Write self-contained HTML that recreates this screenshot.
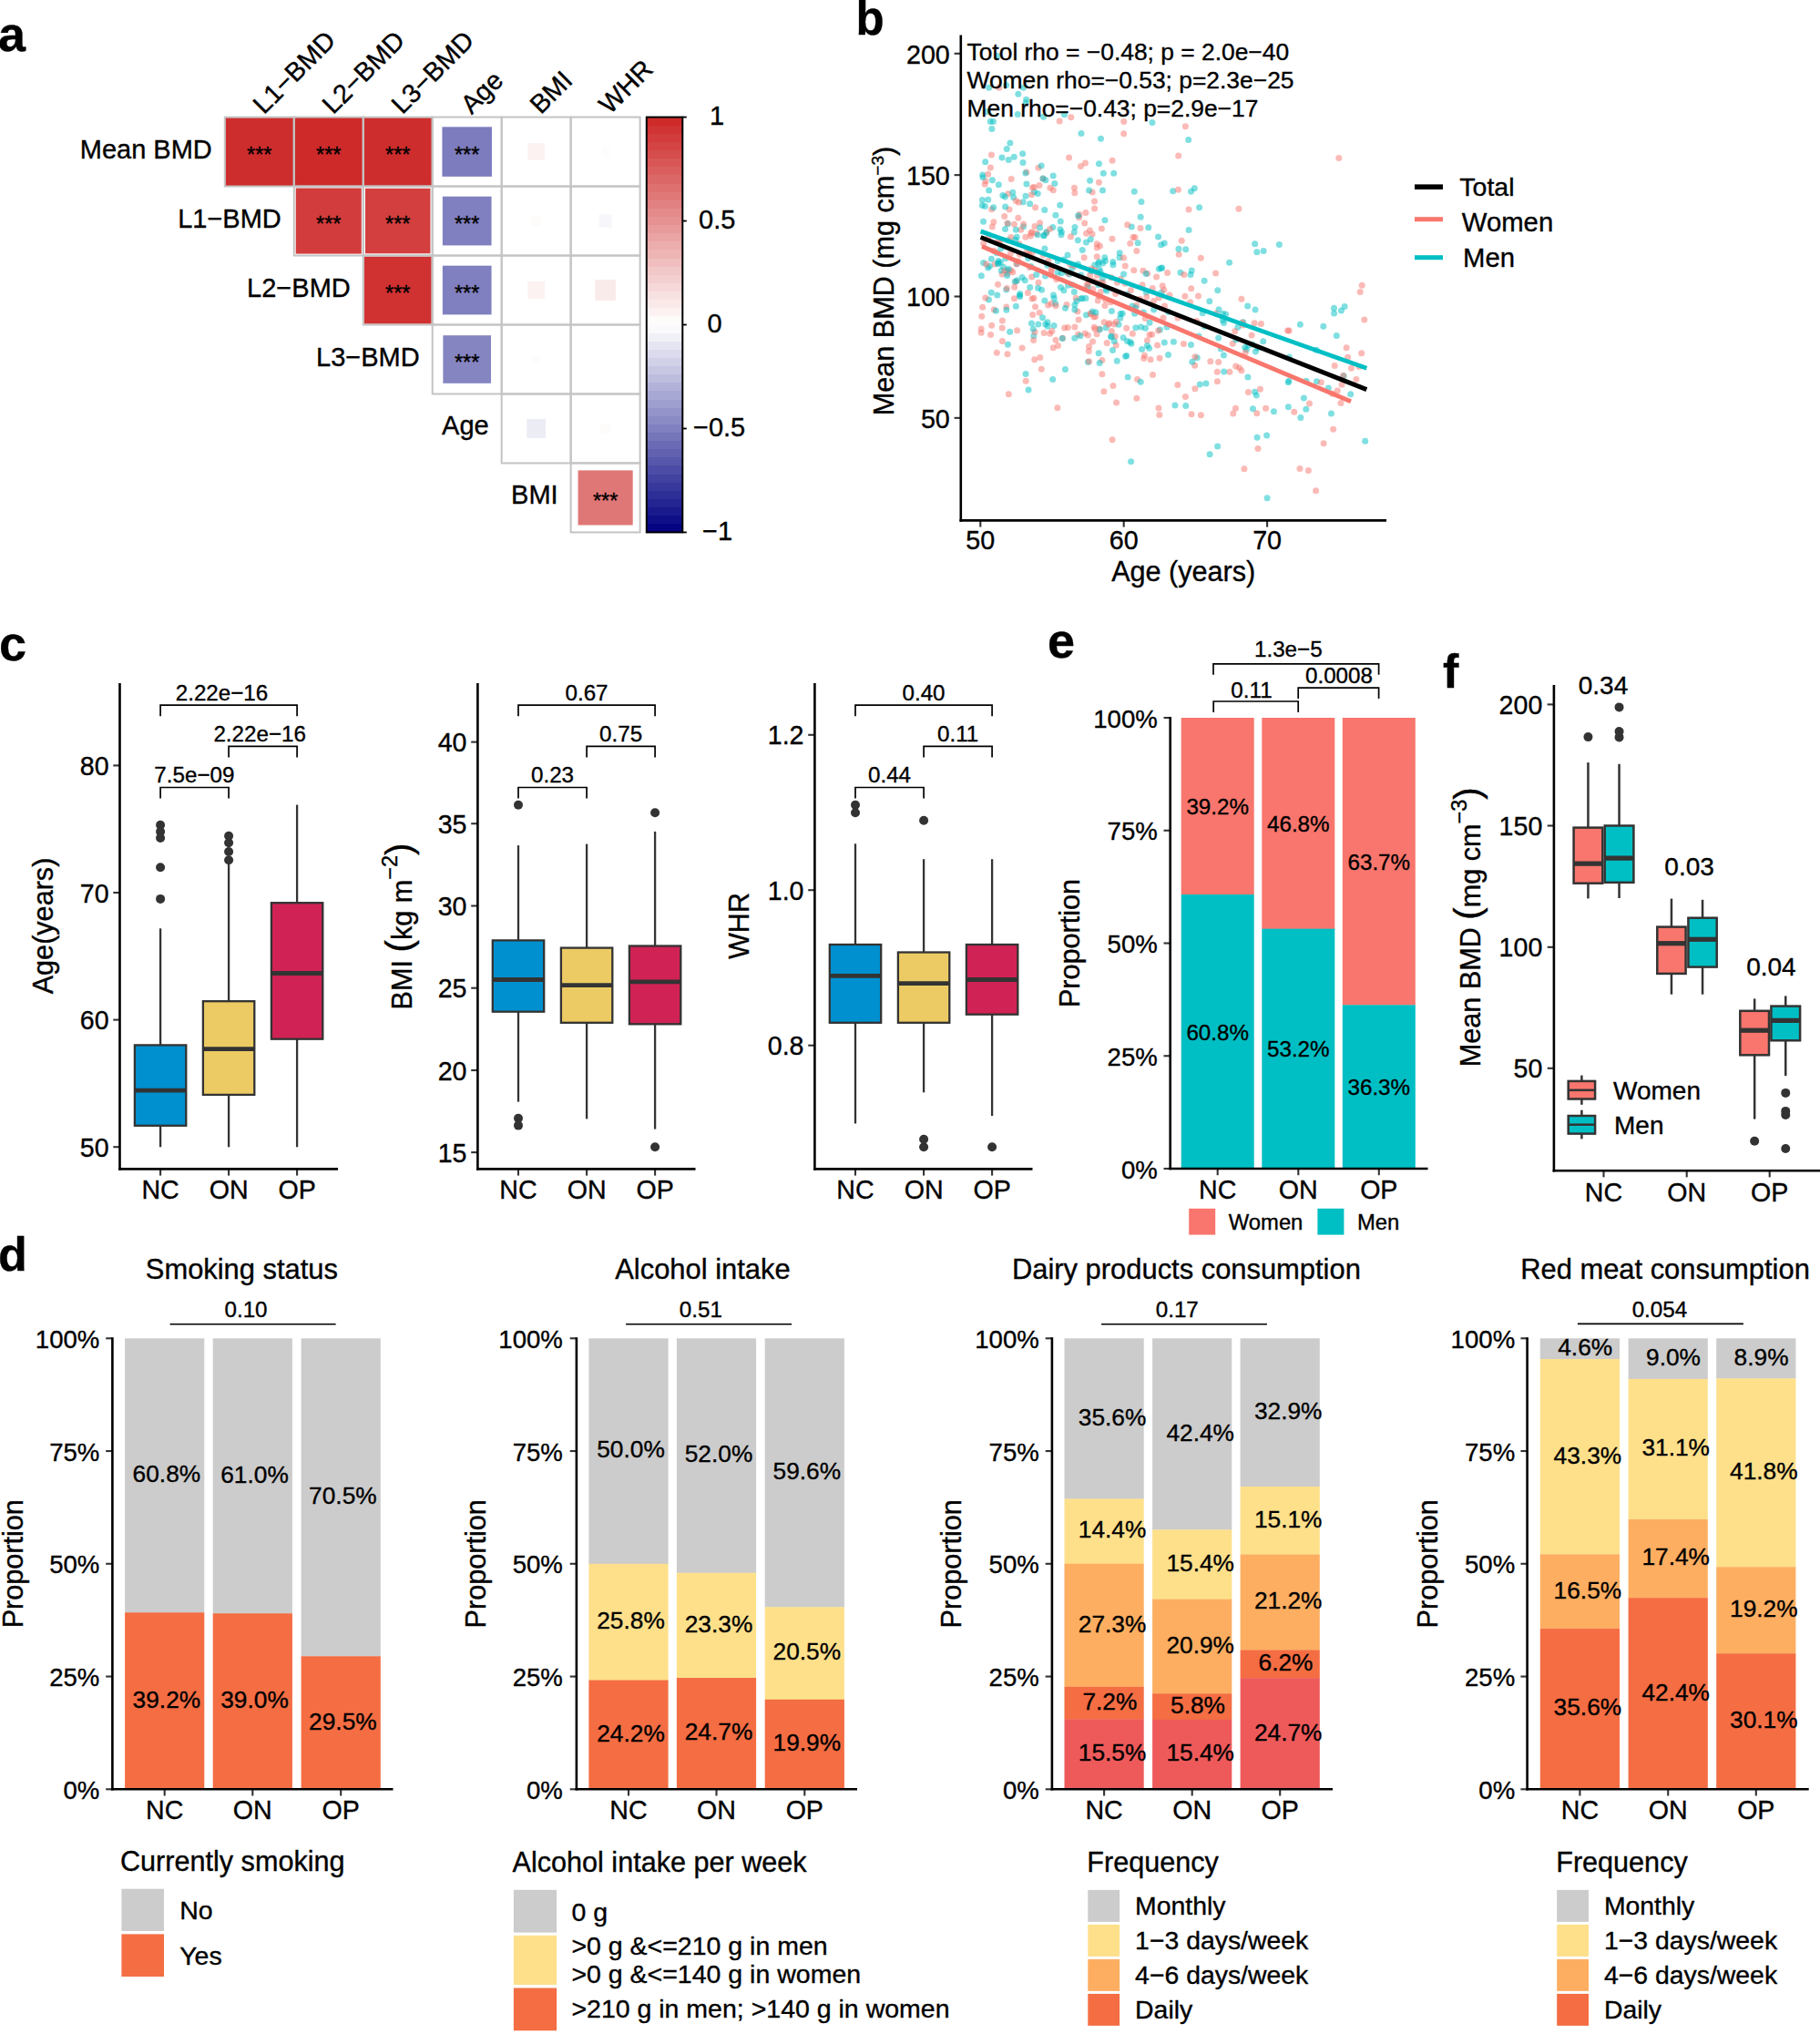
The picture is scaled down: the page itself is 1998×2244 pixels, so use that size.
<!DOCTYPE html>
<html><head><meta charset="utf-8"><title>Figure</title>
<style>
html,body{margin:0;padding:0;background:#fff}
svg{display:block}
svg text{font-family:"Liberation Sans", Arial, Helvetica, sans-serif;fill:#000;stroke:#000;stroke-width:0.35px}
</style></head><body>
<svg width="1998" height="2244" viewBox="0 0 1998 2244">
<rect x="0" y="0" width="1998" height="2244" fill="#fff"/>
<text x="-2" y="56.3" font-size="54" font-weight="bold">a</text>
<rect x="247.37" y="129.17" width="74.82" height="74.82" fill="#CE2D2D"/>
<rect x="323.15" y="128.98" width="75.21" height="75.21" fill="#CE2A2A"/>
<rect x="399.31" y="129.17" width="74.82" height="74.82" fill="#CE2D2D"/>
<rect x="485.44" y="139.33" width="54.52" height="54.52" fill="#7C7CBE"/>
<rect x="579.36" y="157.28" width="18.61" height="18.61" fill="#FCF2F2"/>
<rect x="660.47" y="162.42" width="8.32" height="8.32" fill="#FCFCFD"/>
<rect x="324.72" y="206.52" width="72.07" height="72.07" fill="#D23C3C"/>
<rect x="400.99" y="206.82" width="71.47" height="71.47" fill="#D33F3F"/>
<rect x="485.84" y="215.7" width="53.72" height="53.72" fill="#8080C0"/>
<rect x="583.29" y="237.18" width="10.74" height="10.74" fill="#FEFBFB"/>
<rect x="657.53" y="235.45" width="14.21" height="14.21" fill="#F6F6FB"/>
<rect x="399.7" y="281.5" width="74.05" height="74.05" fill="#D03131"/>
<rect x="485.84" y="291.67" width="53.72" height="53.72" fill="#8080C0"/>
<rect x="579.36" y="309.22" width="18.61" height="18.61" fill="#FCF2F2"/>
<rect x="653.24" y="307.13" width="22.79" height="22.79" fill="#FAEBEB"/>
<rect x="486.38" y="368.18" width="52.63" height="52.63" fill="#8585C2"/>
<rect x="584.5" y="390.33" width="8.32" height="8.32" fill="#FEFCFC"/>
<rect x="661.95" y="391.81" width="5.37" height="5.37" fill="#FFFEFE"/>
<rect x="578.26" y="460.06" width="20.81" height="20.81" fill="#ECECF5"/>
<rect x="659.26" y="465.09" width="10.74" height="10.74" fill="#FEFBFB"/>
<rect x="634.58" y="516.38" width="60.11" height="60.11" fill="#E07777"/>
<rect x="246.8" y="128.6" width="75.97" height="75.97" fill="none" stroke="#C4C4C4" stroke-width="2"/>
<rect x="322.77" y="128.6" width="75.97" height="75.97" fill="none" stroke="#C4C4C4" stroke-width="2"/>
<rect x="398.74" y="128.6" width="75.97" height="75.97" fill="none" stroke="#C4C4C4" stroke-width="2"/>
<rect x="474.71" y="128.6" width="75.97" height="75.97" fill="none" stroke="#C4C4C4" stroke-width="2"/>
<rect x="550.68" y="128.6" width="75.97" height="75.97" fill="none" stroke="#C4C4C4" stroke-width="2"/>
<rect x="626.65" y="128.6" width="75.97" height="75.97" fill="none" stroke="#C4C4C4" stroke-width="2"/>
<rect x="322.77" y="204.57" width="75.97" height="75.97" fill="none" stroke="#C4C4C4" stroke-width="2"/>
<rect x="398.74" y="204.57" width="75.97" height="75.97" fill="none" stroke="#C4C4C4" stroke-width="2"/>
<rect x="474.71" y="204.57" width="75.97" height="75.97" fill="none" stroke="#C4C4C4" stroke-width="2"/>
<rect x="550.68" y="204.57" width="75.97" height="75.97" fill="none" stroke="#C4C4C4" stroke-width="2"/>
<rect x="626.65" y="204.57" width="75.97" height="75.97" fill="none" stroke="#C4C4C4" stroke-width="2"/>
<rect x="398.74" y="280.54" width="75.97" height="75.97" fill="none" stroke="#C4C4C4" stroke-width="2"/>
<rect x="474.71" y="280.54" width="75.97" height="75.97" fill="none" stroke="#C4C4C4" stroke-width="2"/>
<rect x="550.68" y="280.54" width="75.97" height="75.97" fill="none" stroke="#C4C4C4" stroke-width="2"/>
<rect x="626.65" y="280.54" width="75.97" height="75.97" fill="none" stroke="#C4C4C4" stroke-width="2"/>
<rect x="474.71" y="356.51" width="75.97" height="75.97" fill="none" stroke="#C4C4C4" stroke-width="2"/>
<rect x="550.68" y="356.51" width="75.97" height="75.97" fill="none" stroke="#C4C4C4" stroke-width="2"/>
<rect x="626.65" y="356.51" width="75.97" height="75.97" fill="none" stroke="#C4C4C4" stroke-width="2"/>
<rect x="550.68" y="432.48" width="75.97" height="75.97" fill="none" stroke="#C4C4C4" stroke-width="2"/>
<rect x="626.65" y="432.48" width="75.97" height="75.97" fill="none" stroke="#C4C4C4" stroke-width="2"/>
<rect x="626.65" y="508.45" width="75.97" height="75.97" fill="none" stroke="#C4C4C4" stroke-width="2"/>
<text x="284.79" y="178.08" font-size="23.5" text-anchor="middle">***</text>
<text x="360.75" y="178.08" font-size="23.5" text-anchor="middle">***</text>
<text x="436.73" y="178.08" font-size="23.5" text-anchor="middle">***</text>
<text x="512.69" y="178.08" font-size="23.5" text-anchor="middle">***</text>
<text x="360.75" y="254.06" font-size="23.5" text-anchor="middle">***</text>
<text x="436.73" y="254.06" font-size="23.5" text-anchor="middle">***</text>
<text x="512.69" y="254.06" font-size="23.5" text-anchor="middle">***</text>
<text x="436.73" y="330.02" font-size="23.5" text-anchor="middle">***</text>
<text x="512.69" y="330.02" font-size="23.5" text-anchor="middle">***</text>
<text x="512.69" y="406" font-size="23.5" text-anchor="middle">***</text>
<text x="664.63" y="557.93" font-size="23.5" text-anchor="middle">***</text>
<text x="232.8" y="173.58" font-size="29" text-anchor="end">Mean BMD</text>
<text x="308.77" y="249.56" font-size="29" text-anchor="end">L1−BMD</text>
<text x="384.74" y="325.52" font-size="29" text-anchor="end">L2−BMD</text>
<text x="460.71" y="401.5" font-size="29" text-anchor="end">L3−BMD</text>
<text x="536.68" y="477.47" font-size="29" text-anchor="end">Age</text>
<text x="612.65" y="553.43" font-size="29" text-anchor="end">BMI</text>
<text x="289.79" y="126.6" font-size="29" transform="rotate(-45 289.79 126.6)">L1−BMD</text>
<text x="365.75" y="126.6" font-size="29" transform="rotate(-45 365.75 126.6)">L2−BMD</text>
<text x="441.73" y="126.6" font-size="29" transform="rotate(-45 441.73 126.6)">L3−BMD</text>
<text x="517.69" y="126.6" font-size="29" transform="rotate(-45 517.69 126.6)">Age</text>
<text x="593.66" y="126.6" font-size="29" transform="rotate(-45 593.66 126.6)">BMI</text>
<text x="669.63" y="126.6" font-size="29" transform="rotate(-45 669.63 126.6)">WHR</text>
<g shape-rendering="crispEdges">
<rect x="709.8" y="128.6" width="39.5" height="10.12" fill="#CE2A2A"/>
<rect x="709.8" y="137.72" width="39.5" height="10.12" fill="#D03333"/>
<rect x="709.8" y="146.83" width="39.5" height="10.12" fill="#D23C3C"/>
<rect x="709.8" y="155.95" width="39.5" height="10.12" fill="#D44444"/>
<rect x="709.8" y="165.07" width="39.5" height="10.12" fill="#D64D4D"/>
<rect x="709.8" y="174.18" width="39.5" height="10.12" fill="#D85656"/>
<rect x="709.8" y="183.3" width="39.5" height="10.12" fill="#DA5E5E"/>
<rect x="709.8" y="192.41" width="39.5" height="10.12" fill="#DC6767"/>
<rect x="709.8" y="201.53" width="39.5" height="10.12" fill="#DE7070"/>
<rect x="709.8" y="210.65" width="39.5" height="10.12" fill="#E07878"/>
<rect x="709.8" y="219.76" width="39.5" height="10.12" fill="#E28181"/>
<rect x="709.8" y="228.88" width="39.5" height="10.12" fill="#E48A8A"/>
<rect x="709.8" y="238" width="39.5" height="10.12" fill="#E69292"/>
<rect x="709.8" y="247.11" width="39.5" height="10.12" fill="#E89B9B"/>
<rect x="709.8" y="256.23" width="39.5" height="10.12" fill="#EAA4A4"/>
<rect x="709.8" y="265.35" width="39.5" height="10.12" fill="#ECADAD"/>
<rect x="709.8" y="274.46" width="39.5" height="10.12" fill="#EEB5B5"/>
<rect x="709.8" y="283.58" width="39.5" height="10.12" fill="#F0BEBE"/>
<rect x="709.8" y="292.7" width="39.5" height="10.12" fill="#F2C7C7"/>
<rect x="709.8" y="301.81" width="39.5" height="10.12" fill="#F4CFCF"/>
<rect x="709.8" y="310.93" width="39.5" height="10.12" fill="#F6D8D8"/>
<rect x="709.8" y="320.04" width="39.5" height="10.12" fill="#F8E1E1"/>
<rect x="709.8" y="329.16" width="39.5" height="10.12" fill="#FAE9E9"/>
<rect x="709.8" y="338.28" width="39.5" height="10.12" fill="#FCF2F2"/>
<rect x="709.8" y="347.39" width="39.5" height="10.12" fill="#FEFBFB"/>
<rect x="709.8" y="356.51" width="39.5" height="10.12" fill="#FAFAFC"/>
<rect x="709.8" y="365.63" width="39.5" height="10.12" fill="#F0F0F7"/>
<rect x="709.8" y="374.74" width="39.5" height="10.12" fill="#E5E5F2"/>
<rect x="709.8" y="383.86" width="39.5" height="10.12" fill="#DBDBED"/>
<rect x="709.8" y="392.98" width="39.5" height="10.12" fill="#D1D1E8"/>
<rect x="709.8" y="402.09" width="39.5" height="10.12" fill="#C7C7E3"/>
<rect x="709.8" y="411.21" width="39.5" height="10.12" fill="#BDBDDE"/>
<rect x="709.8" y="420.32" width="39.5" height="10.12" fill="#B2B2D9"/>
<rect x="709.8" y="429.44" width="39.5" height="10.12" fill="#A8A8D4"/>
<rect x="709.8" y="438.56" width="39.5" height="10.12" fill="#9E9ECF"/>
<rect x="709.8" y="447.67" width="39.5" height="10.12" fill="#9494CA"/>
<rect x="709.8" y="456.79" width="39.5" height="10.12" fill="#8A8AC5"/>
<rect x="709.8" y="465.91" width="39.5" height="10.12" fill="#8080C0"/>
<rect x="709.8" y="475.02" width="39.5" height="10.12" fill="#7575BA"/>
<rect x="709.8" y="484.14" width="39.5" height="10.12" fill="#6B6BB5"/>
<rect x="709.8" y="493.26" width="39.5" height="10.12" fill="#6161B0"/>
<rect x="709.8" y="502.37" width="39.5" height="10.12" fill="#5757AB"/>
<rect x="709.8" y="511.49" width="39.5" height="10.12" fill="#4C4CA6"/>
<rect x="709.8" y="520.61" width="39.5" height="10.12" fill="#4242A1"/>
<rect x="709.8" y="529.72" width="39.5" height="10.12" fill="#38389C"/>
<rect x="709.8" y="538.84" width="39.5" height="10.12" fill="#2E2E97"/>
<rect x="709.8" y="547.95" width="39.5" height="10.12" fill="#242492"/>
<rect x="709.8" y="557.07" width="39.5" height="10.12" fill="#1A1A8D"/>
<rect x="709.8" y="566.19" width="39.5" height="10.12" fill="#0F0F88"/>
<rect x="709.8" y="575.3" width="39.5" height="10.12" fill="#050583"/>
</g>
<rect x="709.8" y="128.6" width="39.5" height="455.82" fill="none" stroke="#000" stroke-width="2"/>
<line x1="749.3" y1="128.6" x2="753.8" y2="128.6" stroke="#000" stroke-width="1.8"/>
<text x="779" y="136.9" font-size="29">1</text>
<line x1="749.3" y1="242.56" x2="753.8" y2="242.56" stroke="#000" stroke-width="1.8"/>
<text x="767" y="250.86" font-size="29">0.5</text>
<line x1="749.3" y1="356.51" x2="753.8" y2="356.51" stroke="#000" stroke-width="1.8"/>
<text x="776.5" y="364.81" font-size="29">0</text>
<line x1="749.3" y1="470.47" x2="753.8" y2="470.47" stroke="#000" stroke-width="1.8"/>
<text x="761" y="478.77" font-size="29">−0.5</text>
<line x1="749.3" y1="584.42" x2="753.8" y2="584.42" stroke="#000" stroke-width="1.8"/>
<text x="771" y="592.72" font-size="29">−1</text>
<text x="939.6" y="38.3" font-size="51" font-weight="bold">b</text>
<g fill-opacity="0.5">
<circle cx="1196.66" cy="302.03" r="3.5" fill="#F8766D"/>
<circle cx="1100.36" cy="374.57" r="3.5" fill="#F8766D"/>
<circle cx="1130.71" cy="315.4" r="3.5" fill="#00BFC4"/>
<circle cx="1237.87" cy="323.01" r="3.5" fill="#00BFC4"/>
<circle cx="1100.21" cy="301.11" r="3.5" fill="#F8766D"/>
<circle cx="1118.93" cy="267.75" r="3.5" fill="#F8766D"/>
<circle cx="1079.51" cy="243.33" r="3.5" fill="#00BFC4"/>
<circle cx="1146.9" cy="272.96" r="3.5" fill="#00BFC4"/>
<circle cx="1095.55" cy="312.3" r="3.5" fill="#F8766D"/>
<circle cx="1253.52" cy="383.42" r="3.5" fill="#00BFC4"/>
<circle cx="1257.43" cy="360.14" r="3.5" fill="#00BFC4"/>
<circle cx="1155.71" cy="416.52" r="3.5" fill="#00BFC4"/>
<circle cx="1188.24" cy="274.54" r="3.5" fill="#00BFC4"/>
<circle cx="1126.66" cy="109.21" r="3.5" fill="#00BFC4"/>
<circle cx="1140.02" cy="310.19" r="3.5" fill="#F8766D"/>
<circle cx="1199.66" cy="317.54" r="3.5" fill="#F8766D"/>
<circle cx="1213.37" cy="286.44" r="3.5" fill="#00BFC4"/>
<circle cx="1079.64" cy="288.4" r="3.5" fill="#00BFC4"/>
<circle cx="1201.58" cy="229.01" r="3.5" fill="#F8766D"/>
<circle cx="1125.98" cy="215.2" r="3.5" fill="#00BFC4"/>
<circle cx="1208.07" cy="298.55" r="3.5" fill="#00BFC4"/>
<circle cx="1252.96" cy="221.56" r="3.5" fill="#00BFC4"/>
<circle cx="1145.56" cy="128.14" r="3.5" fill="#00BFC4"/>
<circle cx="1414.36" cy="446.85" r="3.5" fill="#00BFC4"/>
<circle cx="1236.68" cy="360.35" r="3.5" fill="#F8766D"/>
<circle cx="1197.48" cy="343.98" r="3.5" fill="#F8766D"/>
<circle cx="1135.28" cy="210.82" r="3.5" fill="#00BFC4"/>
<circle cx="1098.74" cy="272.86" r="3.5" fill="#00BFC4"/>
<circle cx="1117.79" cy="103.13" r="3.5" fill="#00BFC4"/>
<circle cx="1271.53" cy="260.03" r="3.5" fill="#00BFC4"/>
<circle cx="1165.4" cy="254.65" r="3.5" fill="#00BFC4"/>
<circle cx="1488.89" cy="416.38" r="3.5" fill="#F8766D"/>
<circle cx="1201.56" cy="220.89" r="3.5" fill="#F8766D"/>
<circle cx="1091.24" cy="340.06" r="3.5" fill="#F8766D"/>
<circle cx="1194.56" cy="311.65" r="3.5" fill="#F8766D"/>
<circle cx="1192.59" cy="256.27" r="3.5" fill="#F8766D"/>
<circle cx="1270.56" cy="379.06" r="3.5" fill="#F8766D"/>
<circle cx="1259.59" cy="300.35" r="3.5" fill="#F8766D"/>
<circle cx="1092.04" cy="289.98" r="3.5" fill="#F8766D"/>
<circle cx="1482.72" cy="432.85" r="3.5" fill="#00BFC4"/>
<circle cx="1177.49" cy="312.93" r="3.5" fill="#00BFC4"/>
<circle cx="1082.6" cy="122.81" r="3.5" fill="#00BFC4"/>
<circle cx="1353.26" cy="377.18" r="3.5" fill="#F8766D"/>
<circle cx="1208.49" cy="152.37" r="3.5" fill="#00BFC4"/>
<circle cx="1380.08" cy="480.19" r="3.5" fill="#00BFC4"/>
<circle cx="1369.67" cy="335.89" r="3.5" fill="#00BFC4"/>
<circle cx="1077.71" cy="347.31" r="3.5" fill="#F8766D"/>
<circle cx="1126.96" cy="201.92" r="3.5" fill="#00BFC4"/>
<circle cx="1359.9" cy="229.27" r="3.5" fill="#F8766D"/>
<circle cx="1145.18" cy="279.97" r="3.5" fill="#F8766D"/>
<circle cx="1206.92" cy="361.09" r="3.5" fill="#F8766D"/>
<circle cx="1289.95" cy="444.96" r="3.5" fill="#00BFC4"/>
<circle cx="1358.83" cy="359.25" r="3.5" fill="#00BFC4"/>
<circle cx="1229.11" cy="277.67" r="3.5" fill="#00BFC4"/>
<circle cx="1259.42" cy="373.78" r="3.5" fill="#F8766D"/>
<circle cx="1085.74" cy="96.14" r="3.5" fill="#00BFC4"/>
<circle cx="1300.87" cy="325.16" r="3.5" fill="#F8766D"/>
<circle cx="1131.75" cy="256.03" r="3.5" fill="#F8766D"/>
<circle cx="1238.17" cy="413.89" r="3.5" fill="#00BFC4"/>
<circle cx="1079.67" cy="267.2" r="3.5" fill="#F8766D"/>
<circle cx="1128.41" cy="321.56" r="3.5" fill="#F8766D"/>
<circle cx="1336.29" cy="408.18" r="3.5" fill="#F8766D"/>
<circle cx="1107.23" cy="175.49" r="3.5" fill="#00BFC4"/>
<circle cx="1252.16" cy="238.18" r="3.5" fill="#00BFC4"/>
<circle cx="1123.52" cy="96.14" r="3.5" fill="#00BFC4"/>
<circle cx="1364.83" cy="353.81" r="3.5" fill="#00BFC4"/>
<circle cx="1464.45" cy="338.13" r="3.5" fill="#00BFC4"/>
<circle cx="1336.38" cy="418.8" r="3.5" fill="#F8766D"/>
<circle cx="1277.03" cy="348.91" r="3.5" fill="#F8766D"/>
<circle cx="1141.59" cy="244.7" r="3.5" fill="#F8766D"/>
<circle cx="1247.82" cy="275.59" r="3.5" fill="#F8766D"/>
<circle cx="1363.86" cy="354.07" r="3.5" fill="#F8766D"/>
<circle cx="1186.58" cy="327.93" r="3.5" fill="#00BFC4"/>
<circle cx="1305.09" cy="252.53" r="3.5" fill="#00BFC4"/>
<circle cx="1219.55" cy="369.83" r="3.5" fill="#00BFC4"/>
<circle cx="1212.13" cy="353.73" r="3.5" fill="#F8766D"/>
<circle cx="1192.53" cy="345.63" r="3.5" fill="#00BFC4"/>
<circle cx="1185" cy="235.41" r="3.5" fill="#F8766D"/>
<circle cx="1087.32" cy="133.48" r="3.5" fill="#00BFC4"/>
<circle cx="1219.2" cy="331.66" r="3.5" fill="#F8766D"/>
<circle cx="1173.56" cy="173.02" r="3.5" fill="#F8766D"/>
<circle cx="1184.06" cy="351.03" r="3.5" fill="#F8766D"/>
<circle cx="1212.82" cy="282.85" r="3.5" fill="#00BFC4"/>
<circle cx="1166.51" cy="371.18" r="3.5" fill="#F8766D"/>
<circle cx="1137.63" cy="256.13" r="3.5" fill="#F8766D"/>
<circle cx="1271.93" cy="447.94" r="3.5" fill="#F8766D"/>
<circle cx="1243.12" cy="335.99" r="3.5" fill="#00BFC4"/>
<circle cx="1106.71" cy="212.65" r="3.5" fill="#F8766D"/>
<circle cx="1299.46" cy="377.62" r="3.5" fill="#F8766D"/>
<circle cx="1223.2" cy="356.07" r="3.5" fill="#F8766D"/>
<circle cx="1463.64" cy="471.17" r="3.5" fill="#F8766D"/>
<circle cx="1188.1" cy="327.52" r="3.5" fill="#00BFC4"/>
<circle cx="1081.7" cy="177.68" r="3.5" fill="#00BFC4"/>
<circle cx="1146.75" cy="230.43" r="3.5" fill="#00BFC4"/>
<circle cx="1191.88" cy="233.44" r="3.5" fill="#F8766D"/>
<circle cx="1434" cy="418.34" r="3.5" fill="#00BFC4"/>
<circle cx="1125.22" cy="307.72" r="3.5" fill="#00BFC4"/>
<circle cx="1204.23" cy="271.91" r="3.5" fill="#F8766D"/>
<circle cx="1171.03" cy="334.41" r="3.5" fill="#F8766D"/>
<circle cx="1297.24" cy="264.24" r="3.5" fill="#F8766D"/>
<circle cx="1157.25" cy="327.41" r="3.5" fill="#00BFC4"/>
<circle cx="1272.06" cy="327.02" r="3.5" fill="#F8766D"/>
<circle cx="1335.11" cy="344" r="3.5" fill="#F8766D"/>
<circle cx="1130.37" cy="293.57" r="3.5" fill="#F8766D"/>
<circle cx="1099.29" cy="296.94" r="3.5" fill="#00BFC4"/>
<circle cx="1462.85" cy="432.37" r="3.5" fill="#F8766D"/>
<circle cx="1103.31" cy="216.09" r="3.5" fill="#00BFC4"/>
<circle cx="1196.58" cy="198.25" r="3.5" fill="#00BFC4"/>
<circle cx="1276.24" cy="313.82" r="3.5" fill="#F8766D"/>
<circle cx="1379.32" cy="433.9" r="3.5" fill="#00BFC4"/>
<circle cx="1104.77" cy="336.98" r="3.5" fill="#F8766D"/>
<circle cx="1148.75" cy="255.86" r="3.5" fill="#F8766D"/>
<circle cx="1157.09" cy="357.62" r="3.5" fill="#00BFC4"/>
<circle cx="1115.34" cy="336.16" r="3.5" fill="#00BFC4"/>
<circle cx="1190.67" cy="244.96" r="3.5" fill="#F8766D"/>
<circle cx="1230.12" cy="344.57" r="3.5" fill="#00BFC4"/>
<circle cx="1135.34" cy="205.49" r="3.5" fill="#F8766D"/>
<circle cx="1105.97" cy="297.08" r="3.5" fill="#00BFC4"/>
<circle cx="1077.15" cy="365.14" r="3.5" fill="#F8766D"/>
<circle cx="1113.43" cy="246.24" r="3.5" fill="#F8766D"/>
<circle cx="1167.9" cy="318.74" r="3.5" fill="#00BFC4"/>
<circle cx="1225.18" cy="379.12" r="3.5" fill="#F8766D"/>
<circle cx="1272.32" cy="295.27" r="3.5" fill="#00BFC4"/>
<circle cx="1311.29" cy="206.63" r="3.5" fill="#00BFC4"/>
<circle cx="1123.57" cy="248.83" r="3.5" fill="#00BFC4"/>
<circle cx="1194.12" cy="314.88" r="3.5" fill="#00BFC4"/>
<circle cx="1120.67" cy="252.32" r="3.5" fill="#F8766D"/>
<circle cx="1130.66" cy="223.86" r="3.5" fill="#00BFC4"/>
<circle cx="1150.66" cy="334.94" r="3.5" fill="#F8766D"/>
<circle cx="1084.73" cy="219.18" r="3.5" fill="#00BFC4"/>
<circle cx="1235.51" cy="391.28" r="3.5" fill="#00BFC4"/>
<circle cx="1242.23" cy="248.89" r="3.5" fill="#00BFC4"/>
<circle cx="1241.98" cy="377.33" r="3.5" fill="#00BFC4"/>
<circle cx="1166.25" cy="371.53" r="3.5" fill="#00BFC4"/>
<circle cx="1133.4" cy="206.03" r="3.5" fill="#F8766D"/>
<circle cx="1475.2" cy="412.81" r="3.5" fill="#00BFC4"/>
<circle cx="1154.23" cy="333.15" r="3.5" fill="#F8766D"/>
<circle cx="1233.17" cy="370.68" r="3.5" fill="#00BFC4"/>
<circle cx="1282.56" cy="389.42" r="3.5" fill="#00BFC4"/>
<circle cx="1275.72" cy="294.12" r="3.5" fill="#00BFC4"/>
<circle cx="1123.62" cy="245.9" r="3.5" fill="#F8766D"/>
<circle cx="1179.91" cy="359.08" r="3.5" fill="#F8766D"/>
<circle cx="1122.12" cy="381.91" r="3.5" fill="#F8766D"/>
<circle cx="1356.7" cy="401.96" r="3.5" fill="#F8766D"/>
<circle cx="1119.44" cy="324.23" r="3.5" fill="#00BFC4"/>
<circle cx="1153.98" cy="301.83" r="3.5" fill="#F8766D"/>
<circle cx="1474.62" cy="412.14" r="3.5" fill="#F8766D"/>
<circle cx="1221.53" cy="384.6" r="3.5" fill="#00BFC4"/>
<circle cx="1212.98" cy="241.78" r="3.5" fill="#00BFC4"/>
<circle cx="1221.11" cy="176.15" r="3.5" fill="#F8766D"/>
<circle cx="1355.69" cy="363.75" r="3.5" fill="#F8766D"/>
<circle cx="1318.25" cy="283.26" r="3.5" fill="#F8766D"/>
<circle cx="1204.25" cy="281.78" r="3.5" fill="#F8766D"/>
<circle cx="1168.67" cy="360.1" r="3.5" fill="#F8766D"/>
<circle cx="1266.52" cy="330.53" r="3.5" fill="#F8766D"/>
<circle cx="1167.9" cy="284.89" r="3.5" fill="#00BFC4"/>
<circle cx="1082.08" cy="198.7" r="3.5" fill="#F8766D"/>
<circle cx="1183.59" cy="366.9" r="3.5" fill="#F8766D"/>
<circle cx="1084.85" cy="260.74" r="3.5" fill="#F8766D"/>
<circle cx="1206.44" cy="200.13" r="3.5" fill="#F8766D"/>
<circle cx="1213.62" cy="328.94" r="3.5" fill="#F8766D"/>
<circle cx="1294.2" cy="279.21" r="3.5" fill="#F8766D"/>
<circle cx="1301.44" cy="435.52" r="3.5" fill="#F8766D"/>
<circle cx="1368.41" cy="383.75" r="3.5" fill="#00BFC4"/>
<circle cx="1483.46" cy="404.18" r="3.5" fill="#F8766D"/>
<circle cx="1147.7" cy="355.88" r="3.5" fill="#00BFC4"/>
<circle cx="1214.15" cy="359.79" r="3.5" fill="#00BFC4"/>
<circle cx="1182.97" cy="341.92" r="3.5" fill="#F8766D"/>
<circle cx="1213" cy="335.49" r="3.5" fill="#F8766D"/>
<circle cx="1090.47" cy="133.48" r="3.5" fill="#00BFC4"/>
<circle cx="1195.59" cy="380.39" r="3.5" fill="#F8766D"/>
<circle cx="1191.44" cy="179.08" r="3.5" fill="#F8766D"/>
<circle cx="1155.82" cy="249.47" r="3.5" fill="#00BFC4"/>
<circle cx="1106.87" cy="263.66" r="3.5" fill="#00BFC4"/>
<circle cx="1491.99" cy="402.38" r="3.5" fill="#F8766D"/>
<circle cx="1437.45" cy="442.99" r="3.5" fill="#F8766D"/>
<circle cx="1465.18" cy="401.51" r="3.5" fill="#F8766D"/>
<circle cx="1387.14" cy="275.44" r="3.5" fill="#00BFC4"/>
<circle cx="1096.76" cy="96.14" r="3.5" fill="#F8766D"/>
<circle cx="1275.05" cy="320.93" r="3.5" fill="#00BFC4"/>
<circle cx="1383.44" cy="427.19" r="3.5" fill="#F8766D"/>
<circle cx="1116.24" cy="260.13" r="3.5" fill="#00BFC4"/>
<circle cx="1183.36" cy="263.87" r="3.5" fill="#00BFC4"/>
<circle cx="1132.7" cy="304.07" r="3.5" fill="#F8766D"/>
<circle cx="1468.33" cy="428.88" r="3.5" fill="#F8766D"/>
<circle cx="1106.44" cy="378.3" r="3.5" fill="#00BFC4"/>
<circle cx="1322.37" cy="358.16" r="3.5" fill="#00BFC4"/>
<circle cx="1453.11" cy="486.84" r="3.5" fill="#F8766D"/>
<circle cx="1273.43" cy="362.08" r="3.5" fill="#00BFC4"/>
<circle cx="1278.24" cy="267.07" r="3.5" fill="#00BFC4"/>
<circle cx="1107.33" cy="432.67" r="3.5" fill="#F8766D"/>
<circle cx="1288.39" cy="375.22" r="3.5" fill="#00BFC4"/>
<circle cx="1078.41" cy="219.39" r="3.5" fill="#00BFC4"/>
<circle cx="1197.29" cy="344.71" r="3.5" fill="#F8766D"/>
<circle cx="1152.59" cy="366.19" r="3.5" fill="#F8766D"/>
<circle cx="1246.09" cy="260.55" r="3.5" fill="#F8766D"/>
<circle cx="1191.05" cy="366.05" r="3.5" fill="#F8766D"/>
<circle cx="1366.69" cy="381.54" r="3.5" fill="#00BFC4"/>
<circle cx="1377.1" cy="354.73" r="3.5" fill="#F8766D"/>
<circle cx="1431.39" cy="437.03" r="3.5" fill="#00BFC4"/>
<circle cx="1281.02" cy="359.01" r="3.5" fill="#00BFC4"/>
<circle cx="1131.47" cy="258.89" r="3.5" fill="#F8766D"/>
<circle cx="1245.28" cy="210.13" r="3.5" fill="#00BFC4"/>
<circle cx="1199.54" cy="375.08" r="3.5" fill="#F8766D"/>
<circle cx="1353.79" cy="453.9" r="3.5" fill="#F8766D"/>
<circle cx="1085.43" cy="328.97" r="3.5" fill="#00BFC4"/>
<circle cx="1262.06" cy="354.13" r="3.5" fill="#00BFC4"/>
<circle cx="1274.67" cy="294.47" r="3.5" fill="#00BFC4"/>
<circle cx="1209.88" cy="410.77" r="3.5" fill="#F8766D"/>
<circle cx="1141.79" cy="392.42" r="3.5" fill="#F8766D"/>
<circle cx="1147.89" cy="197.85" r="3.5" fill="#00BFC4"/>
<circle cx="1132.99" cy="328.1" r="3.5" fill="#F8766D"/>
<circle cx="1317.26" cy="422.02" r="3.5" fill="#00BFC4"/>
<circle cx="1277.82" cy="318.2" r="3.5" fill="#F8766D"/>
<circle cx="1109.41" cy="278.17" r="3.5" fill="#F8766D"/>
<circle cx="1269.55" cy="303.91" r="3.5" fill="#F8766D"/>
<circle cx="1345.56" cy="345.09" r="3.5" fill="#00BFC4"/>
<circle cx="1132.75" cy="254.68" r="3.5" fill="#F8766D"/>
<circle cx="1111.84" cy="211.34" r="3.5" fill="#00BFC4"/>
<circle cx="1307.51" cy="378.44" r="3.5" fill="#00BFC4"/>
<circle cx="1183.47" cy="289.96" r="3.5" fill="#00BFC4"/>
<circle cx="1139.14" cy="257.8" r="3.5" fill="#00BFC4"/>
<circle cx="1404.34" cy="268.54" r="3.5" fill="#00BFC4"/>
<circle cx="1171.25" cy="298.93" r="3.5" fill="#00BFC4"/>
<circle cx="1374.75" cy="378.2" r="3.5" fill="#00BFC4"/>
<circle cx="1141.13" cy="343.32" r="3.5" fill="#F8766D"/>
<circle cx="1498.69" cy="484.27" r="3.5" fill="#00BFC4"/>
<circle cx="1135.92" cy="248.47" r="3.5" fill="#F8766D"/>
<circle cx="1222.69" cy="190.2" r="3.5" fill="#00BFC4"/>
<circle cx="1139.98" cy="184.3" r="3.5" fill="#F8766D"/>
<circle cx="1375.46" cy="448.66" r="3.5" fill="#00BFC4"/>
<circle cx="1243.36" cy="366.28" r="3.5" fill="#F8766D"/>
<circle cx="1308.01" cy="454.84" r="3.5" fill="#F8766D"/>
<circle cx="1243.92" cy="260.41" r="3.5" fill="#F8766D"/>
<circle cx="1199.76" cy="308.3" r="3.5" fill="#F8766D"/>
<circle cx="1343.44" cy="389.9" r="3.5" fill="#00BFC4"/>
<circle cx="1254.12" cy="312.66" r="3.5" fill="#F8766D"/>
<circle cx="1106.02" cy="388.64" r="3.5" fill="#F8766D"/>
<circle cx="1205.67" cy="289.21" r="3.5" fill="#00BFC4"/>
<circle cx="1156.21" cy="193.01" r="3.5" fill="#00BFC4"/>
<circle cx="1287.73" cy="209.73" r="3.5" fill="#00BFC4"/>
<circle cx="1100.41" cy="352.1" r="3.5" fill="#F8766D"/>
<circle cx="1313.69" cy="352.55" r="3.5" fill="#F8766D"/>
<circle cx="1122.63" cy="168.67" r="3.5" fill="#00BFC4"/>
<circle cx="1159.76" cy="306.85" r="3.5" fill="#F8766D"/>
<circle cx="1181.14" cy="327.33" r="3.5" fill="#F8766D"/>
<circle cx="1181.88" cy="330.45" r="3.5" fill="#00BFC4"/>
<circle cx="1220.38" cy="363.59" r="3.5" fill="#F8766D"/>
<circle cx="1221.99" cy="423.52" r="3.5" fill="#F8766D"/>
<circle cx="1476.1" cy="336.59" r="3.5" fill="#00BFC4"/>
<circle cx="1217.71" cy="354.87" r="3.5" fill="#F8766D"/>
<circle cx="1123" cy="178.46" r="3.5" fill="#00BFC4"/>
<circle cx="1316.61" cy="227.77" r="3.5" fill="#00BFC4"/>
<circle cx="1158.9" cy="236.22" r="3.5" fill="#00BFC4"/>
<circle cx="1109.74" cy="260.57" r="3.5" fill="#F8766D"/>
<circle cx="1301.68" cy="273.76" r="3.5" fill="#00BFC4"/>
<circle cx="1110.21" cy="196.41" r="3.5" fill="#F8766D"/>
<circle cx="1112.62" cy="216.63" r="3.5" fill="#00BFC4"/>
<circle cx="1179.98" cy="249.56" r="3.5" fill="#00BFC4"/>
<circle cx="1116.21" cy="289.43" r="3.5" fill="#00BFC4"/>
<circle cx="1338" cy="339.8" r="3.5" fill="#00BFC4"/>
<circle cx="1105.98" cy="300.32" r="3.5" fill="#F8766D"/>
<circle cx="1273.03" cy="393.2" r="3.5" fill="#F8766D"/>
<circle cx="1157.78" cy="201.47" r="3.5" fill="#00BFC4"/>
<circle cx="1143.2" cy="181.93" r="3.5" fill="#00BFC4"/>
<circle cx="1414.92" cy="418.26" r="3.5" fill="#00BFC4"/>
<circle cx="1323.96" cy="421.02" r="3.5" fill="#00BFC4"/>
<circle cx="1085.65" cy="208.91" r="3.5" fill="#00BFC4"/>
<circle cx="1179.28" cy="255.01" r="3.5" fill="#00BFC4"/>
<circle cx="1328.8" cy="396.67" r="3.5" fill="#F8766D"/>
<circle cx="1134.79" cy="368.67" r="3.5" fill="#00BFC4"/>
<circle cx="1199.05" cy="257.05" r="3.5" fill="#F8766D"/>
<circle cx="1364.34" cy="357.07" r="3.5" fill="#F8766D"/>
<circle cx="1415.3" cy="392.11" r="3.5" fill="#00BFC4"/>
<circle cx="1078.75" cy="191.91" r="3.5" fill="#00BFC4"/>
<circle cx="1204.06" cy="310.04" r="3.5" fill="#F8766D"/>
<circle cx="1494.66" cy="387.84" r="3.5" fill="#F8766D"/>
<circle cx="1378.4" cy="386.07" r="3.5" fill="#00BFC4"/>
<circle cx="1215.18" cy="376.39" r="3.5" fill="#F8766D"/>
<circle cx="1200.86" cy="348.01" r="3.5" fill="#F8766D"/>
<circle cx="1087.39" cy="184.06" r="3.5" fill="#F8766D"/>
<circle cx="1444.62" cy="538.86" r="3.5" fill="#F8766D"/>
<circle cx="1134.99" cy="327.28" r="3.5" fill="#F8766D"/>
<circle cx="1229.06" cy="282.84" r="3.5" fill="#00BFC4"/>
<circle cx="1106.47" cy="245.67" r="3.5" fill="#00BFC4"/>
<circle cx="1217.02" cy="356.31" r="3.5" fill="#F8766D"/>
<circle cx="1311.69" cy="401.28" r="3.5" fill="#F8766D"/>
<circle cx="1108" cy="230.12" r="3.5" fill="#F8766D"/>
<circle cx="1088.43" cy="169.91" r="3.5" fill="#F8766D"/>
<circle cx="1367.08" cy="387.25" r="3.5" fill="#F8766D"/>
<circle cx="1208.37" cy="320.41" r="3.5" fill="#F8766D"/>
<circle cx="1094.28" cy="277.82" r="3.5" fill="#00BFC4"/>
<circle cx="1206.81" cy="295.19" r="3.5" fill="#00BFC4"/>
<circle cx="1493.22" cy="320.47" r="3.5" fill="#F8766D"/>
<circle cx="1095.69" cy="265.1" r="3.5" fill="#F8766D"/>
<circle cx="1117.22" cy="125.48" r="3.5" fill="#00BFC4"/>
<circle cx="1379.75" cy="453.65" r="3.5" fill="#F8766D"/>
<circle cx="1190.21" cy="282.73" r="3.5" fill="#F8766D"/>
<circle cx="1445.49" cy="418.76" r="3.5" fill="#00BFC4"/>
<circle cx="1245.64" cy="344.22" r="3.5" fill="#00BFC4"/>
<circle cx="1132.45" cy="213.86" r="3.5" fill="#F8766D"/>
<circle cx="1088.25" cy="321.21" r="3.5" fill="#00BFC4"/>
<circle cx="1220.08" cy="304.84" r="3.5" fill="#F8766D"/>
<circle cx="1398.43" cy="451.85" r="3.5" fill="#00BFC4"/>
<circle cx="1146.35" cy="258.41" r="3.5" fill="#00BFC4"/>
<circle cx="1123.16" cy="221.75" r="3.5" fill="#00BFC4"/>
<circle cx="1184.57" cy="238.63" r="3.5" fill="#F8766D"/>
<circle cx="1308.28" cy="297.07" r="3.5" fill="#00BFC4"/>
<circle cx="1478.11" cy="381.71" r="3.5" fill="#F8766D"/>
<circle cx="1144.99" cy="196.11" r="3.5" fill="#F8766D"/>
<circle cx="1156.21" cy="208.78" r="3.5" fill="#F8766D"/>
<circle cx="1090.82" cy="243.83" r="3.5" fill="#F8766D"/>
<circle cx="1413.57" cy="363.01" r="3.5" fill="#F8766D"/>
<circle cx="1116.59" cy="362.66" r="3.5" fill="#F8766D"/>
<circle cx="1129.07" cy="427.94" r="3.5" fill="#00BFC4"/>
<circle cx="1096.36" cy="202.74" r="3.5" fill="#00BFC4"/>
<circle cx="1125.84" cy="260.21" r="3.5" fill="#F8766D"/>
<circle cx="1204.18" cy="267.64" r="3.5" fill="#F8766D"/>
<circle cx="1156.51" cy="323.92" r="3.5" fill="#00BFC4"/>
<circle cx="1094.27" cy="387.13" r="3.5" fill="#F8766D"/>
<circle cx="1115.3" cy="252.15" r="3.5" fill="#00BFC4"/>
<circle cx="1135.69" cy="394.75" r="3.5" fill="#F8766D"/>
<circle cx="1150.01" cy="353.75" r="3.5" fill="#00BFC4"/>
<circle cx="1204.09" cy="366.74" r="3.5" fill="#F8766D"/>
<circle cx="1337.64" cy="397.52" r="3.5" fill="#F8766D"/>
<circle cx="1301.73" cy="445.4" r="3.5" fill="#00BFC4"/>
<circle cx="1204.58" cy="302.02" r="3.5" fill="#F8766D"/>
<circle cx="1221.11" cy="482.85" r="3.5" fill="#F8766D"/>
<circle cx="1104.72" cy="317.95" r="3.5" fill="#00BFC4"/>
<circle cx="1370.41" cy="430.61" r="3.5" fill="#F8766D"/>
<circle cx="1255.26" cy="343.06" r="3.5" fill="#00BFC4"/>
<circle cx="1370.2" cy="379.01" r="3.5" fill="#00BFC4"/>
<circle cx="1293.65" cy="171.09" r="3.5" fill="#F8766D"/>
<circle cx="1086.38" cy="292.14" r="3.5" fill="#00BFC4"/>
<circle cx="1161.51" cy="379.57" r="3.5" fill="#F8766D"/>
<circle cx="1163.75" cy="225.33" r="3.5" fill="#00BFC4"/>
<circle cx="1278.31" cy="376" r="3.5" fill="#00BFC4"/>
<circle cx="1258.33" cy="320.94" r="3.5" fill="#00BFC4"/>
<circle cx="1148.91" cy="254.39" r="3.5" fill="#00BFC4"/>
<circle cx="1201.7" cy="290.88" r="3.5" fill="#00BFC4"/>
<circle cx="1077.19" cy="360.92" r="3.5" fill="#F8766D"/>
<circle cx="1193.16" cy="312.64" r="3.5" fill="#F8766D"/>
<circle cx="1467.31" cy="368.41" r="3.5" fill="#00BFC4"/>
<circle cx="1139.82" cy="356" r="3.5" fill="#00BFC4"/>
<circle cx="1108.88" cy="156.98" r="3.5" fill="#00BFC4"/>
<circle cx="1104.91" cy="340.26" r="3.5" fill="#00BFC4"/>
<circle cx="1100.18" cy="360.02" r="3.5" fill="#F8766D"/>
<circle cx="1078.23" cy="225.52" r="3.5" fill="#00BFC4"/>
<circle cx="1436.34" cy="516.44" r="3.5" fill="#F8766D"/>
<circle cx="1183.67" cy="236.63" r="3.5" fill="#00BFC4"/>
<circle cx="1136.62" cy="227.79" r="3.5" fill="#F8766D"/>
<circle cx="1150.19" cy="358.34" r="3.5" fill="#00BFC4"/>
<circle cx="1197.27" cy="262.79" r="3.5" fill="#00BFC4"/>
<circle cx="1414.17" cy="419.69" r="3.5" fill="#00BFC4"/>
<circle cx="1305.02" cy="230.03" r="3.5" fill="#F8766D"/>
<circle cx="1251.97" cy="250.52" r="3.5" fill="#F8766D"/>
<circle cx="1244.76" cy="296.67" r="3.5" fill="#F8766D"/>
<circle cx="1293.93" cy="273.3" r="3.5" fill="#00BFC4"/>
<circle cx="1426.95" cy="514.47" r="3.5" fill="#F8766D"/>
<circle cx="1343.56" cy="354.48" r="3.5" fill="#00BFC4"/>
<circle cx="1472" cy="442.51" r="3.5" fill="#F8766D"/>
<circle cx="1254.93" cy="297.26" r="3.5" fill="#F8766D"/>
<circle cx="1099.97" cy="173.09" r="3.5" fill="#00BFC4"/>
<circle cx="1115.3" cy="308.91" r="3.5" fill="#F8766D"/>
<circle cx="1229.84" cy="349.24" r="3.5" fill="#00BFC4"/>
<circle cx="1337.65" cy="371.02" r="3.5" fill="#00BFC4"/>
<circle cx="1258.8" cy="326" r="3.5" fill="#F8766D"/>
<circle cx="1258.1" cy="300.48" r="3.5" fill="#00BFC4"/>
<circle cx="1356.92" cy="372.89" r="3.5" fill="#00BFC4"/>
<circle cx="1469.8" cy="173.48" r="3.5" fill="#F8766D"/>
<circle cx="1179.87" cy="340.12" r="3.5" fill="#00BFC4"/>
<circle cx="1186.45" cy="182.5" r="3.5" fill="#F8766D"/>
<circle cx="1143.26" cy="405.27" r="3.5" fill="#F8766D"/>
<circle cx="1198.15" cy="295.05" r="3.5" fill="#F8766D"/>
<circle cx="1340.27" cy="383.07" r="3.5" fill="#00BFC4"/>
<circle cx="1307.5" cy="210.34" r="3.5" fill="#00BFC4"/>
<circle cx="1154.16" cy="297.59" r="3.5" fill="#F8766D"/>
<circle cx="1196.37" cy="252.89" r="3.5" fill="#F8766D"/>
<circle cx="1202.63" cy="347.62" r="3.5" fill="#F8766D"/>
<circle cx="1301.38" cy="138.81" r="3.5" fill="#F8766D"/>
<circle cx="1101.65" cy="293.3" r="3.5" fill="#00BFC4"/>
<circle cx="1206.7" cy="287.39" r="3.5" fill="#00BFC4"/>
<circle cx="1226.28" cy="396.14" r="3.5" fill="#00BFC4"/>
<circle cx="1295.96" cy="299.15" r="3.5" fill="#00BFC4"/>
<circle cx="1225.56" cy="441.96" r="3.5" fill="#F8766D"/>
<circle cx="1096.13" cy="286.47" r="3.5" fill="#00BFC4"/>
<circle cx="1144.55" cy="348.79" r="3.5" fill="#00BFC4"/>
<circle cx="1154.82" cy="363.54" r="3.5" fill="#F8766D"/>
<circle cx="1192.4" cy="266.1" r="3.5" fill="#00BFC4"/>
<circle cx="1314.3" cy="392.69" r="3.5" fill="#00BFC4"/>
<circle cx="1236.82" cy="390.48" r="3.5" fill="#00BFC4"/>
<circle cx="1241.57" cy="506.86" r="3.5" fill="#00BFC4"/>
<circle cx="1177.14" cy="294.26" r="3.5" fill="#00BFC4"/>
<circle cx="1230.31" cy="306.29" r="3.5" fill="#F8766D"/>
<circle cx="1088.66" cy="229.82" r="3.5" fill="#F8766D"/>
<circle cx="1461.47" cy="453.98" r="3.5" fill="#00BFC4"/>
<circle cx="1194.38" cy="367.93" r="3.5" fill="#F8766D"/>
<circle cx="1349.9" cy="408.36" r="3.5" fill="#F8766D"/>
<circle cx="1199.13" cy="210.88" r="3.5" fill="#F8766D"/>
<circle cx="1137.8" cy="301.48" r="3.5" fill="#00BFC4"/>
<circle cx="1336.63" cy="490.01" r="3.5" fill="#00BFC4"/>
<circle cx="1117.75" cy="286.77" r="3.5" fill="#F8766D"/>
<circle cx="1179.32" cy="291.66" r="3.5" fill="#F8766D"/>
<circle cx="1211.87" cy="429.71" r="3.5" fill="#F8766D"/>
<circle cx="1232.22" cy="344.25" r="3.5" fill="#00BFC4"/>
<circle cx="1260.76" cy="249.69" r="3.5" fill="#00BFC4"/>
<circle cx="1210.88" cy="309.94" r="3.5" fill="#F8766D"/>
<circle cx="1136.03" cy="364.49" r="3.5" fill="#F8766D"/>
<circle cx="1209.38" cy="250.95" r="3.5" fill="#F8766D"/>
<circle cx="1224.2" cy="369.34" r="3.5" fill="#F8766D"/>
<circle cx="1173.84" cy="301" r="3.5" fill="#00BFC4"/>
<circle cx="1097.73" cy="266.55" r="3.5" fill="#F8766D"/>
<circle cx="1111.77" cy="298.64" r="3.5" fill="#F8766D"/>
<circle cx="1220.41" cy="341.45" r="3.5" fill="#00BFC4"/>
<circle cx="1105.25" cy="163.43" r="3.5" fill="#00BFC4"/>
<circle cx="1201.7" cy="296.63" r="3.5" fill="#F8766D"/>
<circle cx="1334.55" cy="300.07" r="3.5" fill="#F8766D"/>
<circle cx="1293.45" cy="208.2" r="3.5" fill="#F8766D"/>
<circle cx="1343.66" cy="408.07" r="3.5" fill="#00BFC4"/>
<circle cx="1342.45" cy="344.41" r="3.5" fill="#00BFC4"/>
<circle cx="1141.59" cy="250.01" r="3.5" fill="#00BFC4"/>
<circle cx="1214.07" cy="316.98" r="3.5" fill="#00BFC4"/>
<circle cx="1140.95" cy="203.53" r="3.5" fill="#F8766D"/>
<circle cx="1084.63" cy="294.02" r="3.5" fill="#00BFC4"/>
<circle cx="1281.6" cy="299.62" r="3.5" fill="#F8766D"/>
<circle cx="1201.23" cy="359.16" r="3.5" fill="#F8766D"/>
<circle cx="1179.82" cy="334.7" r="3.5" fill="#00BFC4"/>
<circle cx="1089.43" cy="197.85" r="3.5" fill="#00BFC4"/>
<circle cx="1214.91" cy="319.17" r="3.5" fill="#00BFC4"/>
<circle cx="1088.89" cy="141.48" r="3.5" fill="#00BFC4"/>
<circle cx="1261.97" cy="367.62" r="3.5" fill="#F8766D"/>
<circle cx="1105.87" cy="244.93" r="3.5" fill="#F8766D"/>
<circle cx="1114.25" cy="309.22" r="3.5" fill="#00BFC4"/>
<circle cx="1144.98" cy="195.88" r="3.5" fill="#00BFC4"/>
<circle cx="1318.4" cy="455.72" r="3.5" fill="#F8766D"/>
<circle cx="1263.07" cy="394.78" r="3.5" fill="#F8766D"/>
<circle cx="1102.66" cy="237.51" r="3.5" fill="#F8766D"/>
<circle cx="1098.36" cy="287.91" r="3.5" fill="#00BFC4"/>
<circle cx="1261.56" cy="382.25" r="3.5" fill="#00BFC4"/>
<circle cx="1133.12" cy="277.67" r="3.5" fill="#F8766D"/>
<circle cx="1132.43" cy="355.04" r="3.5" fill="#00BFC4"/>
<circle cx="1081.83" cy="326.88" r="3.5" fill="#F8766D"/>
<circle cx="1194.42" cy="397.39" r="3.5" fill="#00BFC4"/>
<circle cx="1095.19" cy="61.47" r="3.5" fill="#00BFC4"/>
<circle cx="1126.96" cy="188.93" r="3.5" fill="#F8766D"/>
<circle cx="1090.63" cy="227.64" r="3.5" fill="#00BFC4"/>
<circle cx="1095.5" cy="288.78" r="3.5" fill="#00BFC4"/>
<circle cx="1100.78" cy="214.5" r="3.5" fill="#00BFC4"/>
<circle cx="1108.62" cy="364.32" r="3.5" fill="#00BFC4"/>
<circle cx="1195.26" cy="385.39" r="3.5" fill="#F8766D"/>
<circle cx="1240.77" cy="375.59" r="3.5" fill="#00BFC4"/>
<circle cx="1221.83" cy="287.6" r="3.5" fill="#00BFC4"/>
<circle cx="1195.55" cy="209.05" r="3.5" fill="#00BFC4"/>
<circle cx="1282.73" cy="342.42" r="3.5" fill="#00BFC4"/>
<circle cx="1235.2" cy="292.1" r="3.5" fill="#F8766D"/>
<circle cx="1131.91" cy="292.49" r="3.5" fill="#00BFC4"/>
<circle cx="1311.87" cy="391.76" r="3.5" fill="#F8766D"/>
<circle cx="1095.92" cy="289.71" r="3.5" fill="#00BFC4"/>
<circle cx="1109.7" cy="296.81" r="3.5" fill="#F8766D"/>
<circle cx="1328.14" cy="498.86" r="3.5" fill="#00BFC4"/>
<circle cx="1248.57" cy="416.59" r="3.5" fill="#F8766D"/>
<circle cx="1103.62" cy="227.04" r="3.5" fill="#00BFC4"/>
<circle cx="1497.8" cy="350.97" r="3.5" fill="#F8766D"/>
<circle cx="1163.17" cy="133.07" r="3.5" fill="#F8766D"/>
<circle cx="1103.51" cy="251.51" r="3.5" fill="#00BFC4"/>
<circle cx="1233.7" cy="146.81" r="3.5" fill="#F8766D"/>
<circle cx="1272.83" cy="455.54" r="3.5" fill="#F8766D"/>
<circle cx="1088.65" cy="357.15" r="3.5" fill="#F8766D"/>
<circle cx="1172.03" cy="279.89" r="3.5" fill="#00BFC4"/>
<circle cx="1479.62" cy="392.17" r="3.5" fill="#F8766D"/>
<circle cx="1384.35" cy="355.62" r="3.5" fill="#F8766D"/>
<circle cx="1195.55" cy="396.72" r="3.5" fill="#F8766D"/>
<circle cx="1377.61" cy="267.82" r="3.5" fill="#00BFC4"/>
<circle cx="1427.85" cy="458.58" r="3.5" fill="#00BFC4"/>
<circle cx="1378.03" cy="340.07" r="3.5" fill="#00BFC4"/>
<circle cx="1247.86" cy="437.35" r="3.5" fill="#F8766D"/>
<circle cx="1168.53" cy="125.79" r="3.5" fill="#00BFC4"/>
<circle cx="1360.52" cy="403.69" r="3.5" fill="#F8766D"/>
<circle cx="1169.45" cy="338.23" r="3.5" fill="#00BFC4"/>
<circle cx="1127.3" cy="276.37" r="3.5" fill="#F8766D"/>
<circle cx="1152.92" cy="206.15" r="3.5" fill="#F8766D"/>
<circle cx="1391.1" cy="546.86" r="3.5" fill="#00BFC4"/>
<circle cx="1342.4" cy="351.59" r="3.5" fill="#00BFC4"/>
<circle cx="1077.38" cy="302.71" r="3.5" fill="#00BFC4"/>
<circle cx="1202.94" cy="342.94" r="3.5" fill="#00BFC4"/>
<circle cx="1122.15" cy="304.53" r="3.5" fill="#00BFC4"/>
<circle cx="1186.74" cy="301.9" r="3.5" fill="#00BFC4"/>
<circle cx="1452.82" cy="358.33" r="3.5" fill="#00BFC4"/>
<circle cx="1113.23" cy="172.14" r="3.5" fill="#00BFC4"/>
<circle cx="1179.33" cy="320.49" r="3.5" fill="#00BFC4"/>
<circle cx="1172.52" cy="313.35" r="3.5" fill="#00BFC4"/>
<circle cx="1472.41" cy="340.95" r="3.5" fill="#00BFC4"/>
<circle cx="1266.7" cy="340.12" r="3.5" fill="#00BFC4"/>
<circle cx="1174.72" cy="290.31" r="3.5" fill="#F8766D"/>
<circle cx="1237.47" cy="374.46" r="3.5" fill="#00BFC4"/>
<circle cx="1307.02" cy="301.6" r="3.5" fill="#00BFC4"/>
<circle cx="1103.19" cy="296.9" r="3.5" fill="#F8766D"/>
<circle cx="1420.76" cy="452.18" r="3.5" fill="#F8766D"/>
<circle cx="1316.03" cy="369.07" r="3.5" fill="#00BFC4"/>
<circle cx="1390.65" cy="478.09" r="3.5" fill="#00BFC4"/>
<circle cx="1210.57" cy="289.11" r="3.5" fill="#00BFC4"/>
<circle cx="1224.64" cy="322.52" r="3.5" fill="#F8766D"/>
<circle cx="1207.47" cy="270.01" r="3.5" fill="#F8766D"/>
<circle cx="1211.34" cy="190.2" r="3.5" fill="#00BFC4"/>
<circle cx="1161.17" cy="298.88" r="3.5" fill="#00BFC4"/>
<circle cx="1264.92" cy="134.54" r="3.5" fill="#00BFC4"/>
<circle cx="1256.55" cy="390.14" r="3.5" fill="#F8766D"/>
<circle cx="1233.7" cy="133.48" r="3.5" fill="#F8766D"/>
<circle cx="1179.8" cy="371.14" r="3.5" fill="#00BFC4"/>
<circle cx="1380.84" cy="382.11" r="3.5" fill="#00BFC4"/>
<circle cx="1247.68" cy="334.92" r="3.5" fill="#F8766D"/>
<circle cx="1233.51" cy="282.91" r="3.5" fill="#F8766D"/>
<circle cx="1336.74" cy="318.78" r="3.5" fill="#00BFC4"/>
<circle cx="1283.95" cy="323.94" r="3.5" fill="#F8766D"/>
<circle cx="1223.15" cy="374.62" r="3.5" fill="#00BFC4"/>
<circle cx="1207.37" cy="361.72" r="3.5" fill="#00BFC4"/>
<circle cx="1292.99" cy="348.94" r="3.5" fill="#F8766D"/>
<circle cx="1377.54" cy="430.32" r="3.5" fill="#00BFC4"/>
<circle cx="1126.25" cy="112.85" r="3.5" fill="#00BFC4"/>
<circle cx="1115.37" cy="220.42" r="3.5" fill="#F8766D"/>
<circle cx="1237.65" cy="246.74" r="3.5" fill="#F8766D"/>
<circle cx="1308.83" cy="397.27" r="3.5" fill="#00BFC4"/>
<circle cx="1173.12" cy="300.13" r="3.5" fill="#F8766D"/>
<circle cx="1415.14" cy="363.04" r="3.5" fill="#F8766D"/>
<circle cx="1105.57" cy="302.61" r="3.5" fill="#00BFC4"/>
<circle cx="1078.67" cy="337.31" r="3.5" fill="#F8766D"/>
<circle cx="1169.44" cy="405.38" r="3.5" fill="#00BFC4"/>
<circle cx="1271.65" cy="362.94" r="3.5" fill="#F8766D"/>
<circle cx="1255.75" cy="393.44" r="3.5" fill="#F8766D"/>
<circle cx="1134.6" cy="373.48" r="3.5" fill="#F8766D"/>
<circle cx="1464.59" cy="343.92" r="3.5" fill="#00BFC4"/>
<circle cx="1119.42" cy="279.28" r="3.5" fill="#F8766D"/>
<circle cx="1246.7" cy="337.84" r="3.5" fill="#00BFC4"/>
<circle cx="1374.13" cy="367.95" r="3.5" fill="#F8766D"/>
<circle cx="1133.66" cy="345.59" r="3.5" fill="#F8766D"/>
<circle cx="1206.47" cy="179.78" r="3.5" fill="#00BFC4"/>
<circle cx="1104.63" cy="93.47" r="3.5" fill="#00BFC4"/>
<circle cx="1165.21" cy="299.79" r="3.5" fill="#00BFC4"/>
<circle cx="1380.96" cy="492.46" r="3.5" fill="#F8766D"/>
<circle cx="1389.56" cy="448.19" r="3.5" fill="#F8766D"/>
<circle cx="1210.38" cy="305.55" r="3.5" fill="#00BFC4"/>
<circle cx="1126.21" cy="418.19" r="3.5" fill="#F8766D"/>
<circle cx="1161.22" cy="286.6" r="3.5" fill="#00BFC4"/>
<circle cx="1179.46" cy="206.22" r="3.5" fill="#F8766D"/>
<circle cx="1147.54" cy="303.01" r="3.5" fill="#00BFC4"/>
<circle cx="1087.55" cy="367.39" r="3.5" fill="#F8766D"/>
<circle cx="1145.57" cy="258.68" r="3.5" fill="#00BFC4"/>
<circle cx="1114.79" cy="263.28" r="3.5" fill="#00BFC4"/>
<circle cx="1349.58" cy="288.13" r="3.5" fill="#00BFC4"/>
<circle cx="1164.28" cy="243.05" r="3.5" fill="#00BFC4"/>
<circle cx="1149.83" cy="291.34" r="3.5" fill="#00BFC4"/>
<circle cx="1228.13" cy="356.13" r="3.5" fill="#00BFC4"/>
<circle cx="1128.65" cy="283.39" r="3.5" fill="#00BFC4"/>
<circle cx="1307.71" cy="316.8" r="3.5" fill="#F8766D"/>
<circle cx="1427.33" cy="356.37" r="3.5" fill="#00BFC4"/>
<circle cx="1175.42" cy="259.73" r="3.5" fill="#F8766D"/>
<circle cx="1369.92" cy="414.07" r="3.5" fill="#00BFC4"/>
<circle cx="1265.53" cy="411.43" r="3.5" fill="#F8766D"/>
<circle cx="1304.67" cy="153.51" r="3.5" fill="#00BFC4"/>
<circle cx="1179.82" cy="211.7" r="3.5" fill="#F8766D"/>
<circle cx="1433.81" cy="449.31" r="3.5" fill="#00BFC4"/>
<circle cx="1125.82" cy="190.05" r="3.5" fill="#00BFC4"/>
<circle cx="1088.4" cy="284.19" r="3.5" fill="#00BFC4"/>
<circle cx="1119.73" cy="322.56" r="3.5" fill="#00BFC4"/>
<circle cx="1093.43" cy="341.23" r="3.5" fill="#00BFC4"/>
<circle cx="1103.87" cy="283.63" r="3.5" fill="#00BFC4"/>
<circle cx="1154.34" cy="295.4" r="3.5" fill="#F8766D"/>
<circle cx="1129.63" cy="278.11" r="3.5" fill="#F8766D"/>
<circle cx="1091.27" cy="275.43" r="3.5" fill="#F8766D"/>
<circle cx="1209.07" cy="310.14" r="3.5" fill="#F8766D"/>
<circle cx="1220.98" cy="262.25" r="3.5" fill="#F8766D"/>
<circle cx="1081.37" cy="226.48" r="3.5" fill="#00BFC4"/>
<circle cx="1118.37" cy="222.32" r="3.5" fill="#F8766D"/>
<circle cx="1306.52" cy="331.72" r="3.5" fill="#F8766D"/>
<circle cx="1146.14" cy="365.47" r="3.5" fill="#F8766D"/>
<circle cx="1240.79" cy="267.28" r="3.5" fill="#F8766D"/>
<circle cx="1206.21" cy="324.94" r="3.5" fill="#F8766D"/>
<circle cx="1172.39" cy="359.39" r="3.5" fill="#F8766D"/>
<circle cx="1139.26" cy="212.6" r="3.5" fill="#00BFC4"/>
<circle cx="1158.97" cy="373.37" r="3.5" fill="#F8766D"/>
<circle cx="1365.92" cy="514.86" r="3.5" fill="#F8766D"/>
<circle cx="1163.91" cy="251.84" r="3.5" fill="#00BFC4"/>
<circle cx="1251.33" cy="328.14" r="3.5" fill="#F8766D"/>
<circle cx="1450.26" cy="419.68" r="3.5" fill="#F8766D"/>
<circle cx="1241.35" cy="318.82" r="3.5" fill="#F8766D"/>
<circle cx="1156.21" cy="381.87" r="3.5" fill="#F8766D"/>
<circle cx="1362.9" cy="406.72" r="3.5" fill="#F8766D"/>
<circle cx="1205.76" cy="312.86" r="3.5" fill="#00BFC4"/>
<circle cx="1292.87" cy="422.6" r="3.5" fill="#F8766D"/>
<circle cx="1252.22" cy="419.2" r="3.5" fill="#00BFC4"/>
<circle cx="1205.27" cy="330.06" r="3.5" fill="#F8766D"/>
<circle cx="1117.86" cy="239.18" r="3.5" fill="#F8766D"/>
<circle cx="1473.12" cy="422.2" r="3.5" fill="#F8766D"/>
<circle cx="1356.47" cy="448.36" r="3.5" fill="#F8766D"/>
<circle cx="1126.07" cy="410.57" r="3.5" fill="#00BFC4"/>
<circle cx="1327.82" cy="330.63" r="3.5" fill="#00BFC4"/>
<circle cx="1315.51" cy="325.11" r="3.5" fill="#F8766D"/>
<circle cx="1278.5" cy="336.07" r="3.5" fill="#F8766D"/>
<circle cx="1081.18" cy="202.22" r="3.5" fill="#F8766D"/>
<circle cx="1226.56" cy="310.34" r="3.5" fill="#F8766D"/>
<circle cx="1113.69" cy="315.29" r="3.5" fill="#F8766D"/>
<circle cx="1209.86" cy="395.56" r="3.5" fill="#F8766D"/>
<circle cx="1158.57" cy="333.23" r="3.5" fill="#00BFC4"/>
<circle cx="1206.17" cy="387.86" r="3.5" fill="#00BFC4"/>
<circle cx="1084.66" cy="191.35" r="3.5" fill="#F8766D"/>
<circle cx="1186.99" cy="146.6" r="3.5" fill="#00BFC4"/>
<circle cx="1320.16" cy="343.75" r="3.5" fill="#00BFC4"/>
<circle cx="1134.3" cy="361.21" r="3.5" fill="#00BFC4"/>
<circle cx="1458.31" cy="425.9" r="3.5" fill="#00BFC4"/>
<circle cx="1089.29" cy="248.93" r="3.5" fill="#F8766D"/>
<circle cx="1146.86" cy="329.91" r="3.5" fill="#00BFC4"/>
<circle cx="1207.1" cy="398.47" r="3.5" fill="#00BFC4"/>
<circle cx="1265.21" cy="316.47" r="3.5" fill="#F8766D"/>
<circle cx="1116.1" cy="289.94" r="3.5" fill="#F8766D"/>
<circle cx="1210.5" cy="208.93" r="3.5" fill="#00BFC4"/>
<circle cx="1175.81" cy="128.8" r="3.5" fill="#F8766D"/>
<circle cx="1264.67" cy="367.18" r="3.5" fill="#F8766D"/>
<circle cx="1495.16" cy="313.32" r="3.5" fill="#F8766D"/>
<circle cx="1082.73" cy="289.96" r="3.5" fill="#F8766D"/>
<circle cx="1299.81" cy="301.59" r="3.5" fill="#F8766D"/>
<circle cx="1233.48" cy="300.89" r="3.5" fill="#00BFC4"/>
<circle cx="1107.22" cy="295.34" r="3.5" fill="#00BFC4"/>
<circle cx="1164.92" cy="257.76" r="3.5" fill="#00BFC4"/>
<circle cx="1445.21" cy="384.2" r="3.5" fill="#00BFC4"/>
<circle cx="1197.81" cy="297.57" r="3.5" fill="#00BFC4"/>
<circle cx="1202.05" cy="361.27" r="3.5" fill="#F8766D"/>
<circle cx="1143.55" cy="318.18" r="3.5" fill="#00BFC4"/>
<circle cx="1225.12" cy="353.57" r="3.5" fill="#F8766D"/>
<circle cx="1191.91" cy="327.53" r="3.5" fill="#00BFC4"/>
<circle cx="1257.22" cy="349.51" r="3.5" fill="#F8766D"/>
<circle cx="1152.62" cy="251.57" r="3.5" fill="#F8766D"/>
<circle cx="1246.8" cy="359.79" r="3.5" fill="#00BFC4"/>
<circle cx="1150.87" cy="286.29" r="3.5" fill="#F8766D"/>
<circle cx="1105.32" cy="316.53" r="3.5" fill="#F8766D"/>
<circle cx="1113.5" cy="327.74" r="3.5" fill="#F8766D"/>
<circle cx="1362.91" cy="328.21" r="3.5" fill="#F8766D"/>
<circle cx="1322.11" cy="308.25" r="3.5" fill="#00BFC4"/>
<circle cx="1274.57" cy="268.8" r="3.5" fill="#00BFC4"/>
<circle cx="1094.83" cy="324.04" r="3.5" fill="#00BFC4"/>
<circle cx="1311.86" cy="426.69" r="3.5" fill="#F8766D"/>
<circle cx="1136.53" cy="336.86" r="3.5" fill="#F8766D"/>
<circle cx="1119.63" cy="325.45" r="3.5" fill="#00BFC4"/>
<circle cx="1160.88" cy="447.87" r="3.5" fill="#F8766D"/>
<circle cx="1159.09" cy="335.79" r="3.5" fill="#F8766D"/>
<circle cx="1185.92" cy="368.83" r="3.5" fill="#00BFC4"/>
<circle cx="1164.47" cy="315.48" r="3.5" fill="#00BFC4"/>
<circle cx="1235.1" cy="311.3" r="3.5" fill="#F8766D"/>
<circle cx="1386.73" cy="374.74" r="3.5" fill="#00BFC4"/>
<circle cx="1139.51" cy="316.19" r="3.5" fill="#00BFC4"/>
<circle cx="1259.42" cy="379.51" r="3.5" fill="#00BFC4"/>
<circle cx="1116.61" cy="307.65" r="3.5" fill="#00BFC4"/>
<circle cx="1220.22" cy="369.21" r="3.5" fill="#00BFC4"/>
<circle cx="1199.37" cy="341.97" r="3.5" fill="#00BFC4"/>
<circle cx="1079" cy="194.72" r="3.5" fill="#00BFC4"/>
<circle cx="1379.8" cy="276.86" r="3.5" fill="#00BFC4"/>
<circle cx="1221.95" cy="290.84" r="3.5" fill="#00BFC4"/>
<circle cx="1252.43" cy="358.91" r="3.5" fill="#00BFC4"/>
<circle cx="1249.16" cy="266.84" r="3.5" fill="#00BFC4"/>
</g>
<line x1="1078" y1="270.4" x2="1483" y2="440.8" stroke="#F8766D" stroke-width="4.9"/>
<line x1="1076.6" y1="253.9" x2="1500.3" y2="404.2" stroke="#00BFC4" stroke-width="4.9"/>
<line x1="1076.6" y1="260.5" x2="1500.3" y2="427.6" stroke="#000" stroke-width="4.9"/>
<line x1="1047.6" y1="458.85" x2="1054.8" y2="458.85" stroke="#333333" stroke-width="2.1"/>
<text x="1042.8" y="469.65" font-size="28.7" text-anchor="end">50</text>
<line x1="1047.6" y1="325.5" x2="1054.8" y2="325.5" stroke="#333333" stroke-width="2.1"/>
<text x="1042.8" y="336.3" font-size="28.7" text-anchor="end">100</text>
<line x1="1047.6" y1="192.15" x2="1054.8" y2="192.15" stroke="#333333" stroke-width="2.1"/>
<text x="1042.8" y="202.95" font-size="28.7" text-anchor="end">150</text>
<line x1="1047.6" y1="58.8" x2="1054.8" y2="58.8" stroke="#333333" stroke-width="2.1"/>
<text x="1042.8" y="69.6" font-size="28.7" text-anchor="end">200</text>
<line x1="1076.3" y1="571.4" x2="1076.3" y2="578.6" stroke="#333333" stroke-width="2.1"/>
<text x="1076.3" y="603.2" font-size="28.7" text-anchor="middle">50</text>
<line x1="1233.7" y1="571.4" x2="1233.7" y2="578.6" stroke="#333333" stroke-width="2.1"/>
<text x="1233.7" y="603.2" font-size="28.7" text-anchor="middle">60</text>
<line x1="1391.1" y1="571.4" x2="1391.1" y2="578.6" stroke="#333333" stroke-width="2.1"/>
<text x="1391.1" y="603.2" font-size="28.7" text-anchor="middle">70</text>
<line x1="1054.8" y1="38.5" x2="1054.8" y2="572.7" stroke="#000" stroke-width="2.6"/>
<line x1="1053.5" y1="571.4" x2="1522" y2="571.4" stroke="#000" stroke-width="2.6"/>
<text x="1299.2" y="638" font-size="30.6" text-anchor="middle">Age (years)</text>
<text x="981" y="308.5" font-size="30.6" text-anchor="middle" transform="rotate(-90 981 308.5)">Mean BMD (mg cm<tspan font-size="19" dy="-11">−3</tspan><tspan dy="11">)</tspan></text>
<text x="1061.5" y="65.7" font-size="26.4">Totol rho = −0.48; p = 2.0e−40</text>
<text x="1061.5" y="97.1" font-size="26.4">Women rho=−0.53; p=2.3e−25</text>
<text x="1061.5" y="128" font-size="26.4">Men rho=−0.43; p=2.9e−17</text>
<line x1="1553" y1="205.2" x2="1584" y2="205.2" stroke="#000" stroke-width="5.6"/>
<line x1="1553" y1="240.7" x2="1584" y2="240.7" stroke="#F8766D" stroke-width="5"/>
<line x1="1553" y1="282.7" x2="1584" y2="282.7" stroke="#00BFC4" stroke-width="5"/>
<text x="1602.3" y="215.4" font-size="28.5">Total</text>
<text x="1604.8" y="253.8" font-size="29.3">Women</text>
<text x="1606" y="293.4" font-size="29.3">Men</text>
<text x="-1" y="725" font-size="54" font-weight="bold">c</text>
<line x1="176.1" y1="1019.3" x2="176.1" y2="1147.4" stroke="#333333" stroke-width="2.3"/>
<line x1="176.1" y1="1235.8" x2="176.1" y2="1259.3" stroke="#333333" stroke-width="2.3"/>
<rect x="147.9" y="1147.4" width="56.4" height="88.4" fill="#0090CF" stroke="#333333" stroke-width="2.3"/>
<line x1="147.9" y1="1197.2" x2="204.3" y2="1197.2" stroke="#333333" stroke-width="4.83"/>
<circle cx="176.1" cy="905.7" r="5" fill="#333333"/>
<circle cx="176.1" cy="913.1" r="5" fill="#333333"/>
<circle cx="176.1" cy="920" r="5" fill="#333333"/>
<circle cx="176.1" cy="952.3" r="5" fill="#333333"/>
<circle cx="176.1" cy="986.9" r="5" fill="#333333"/>
<line x1="251.1" y1="945.4" x2="251.1" y2="1099.2" stroke="#333333" stroke-width="2.3"/>
<line x1="251.1" y1="1201.9" x2="251.1" y2="1259.3" stroke="#333333" stroke-width="2.3"/>
<rect x="222.9" y="1099.2" width="56.4" height="102.7" fill="#ECCB64" stroke="#333333" stroke-width="2.3"/>
<line x1="222.9" y1="1151.6" x2="279.3" y2="1151.6" stroke="#333333" stroke-width="4.83"/>
<circle cx="251.1" cy="917.7" r="5" fill="#333333"/>
<circle cx="251.1" cy="925.3" r="5" fill="#333333"/>
<circle cx="251.1" cy="935" r="5" fill="#333333"/>
<circle cx="251.1" cy="944.2" r="5" fill="#333333"/>
<line x1="326.1" y1="883.6" x2="326.1" y2="991.2" stroke="#333333" stroke-width="2.3"/>
<line x1="326.1" y1="1140.7" x2="326.1" y2="1259.3" stroke="#333333" stroke-width="2.3"/>
<rect x="297.9" y="991.2" width="56.4" height="149.5" fill="#D02255" stroke="#333333" stroke-width="2.3"/>
<line x1="297.9" y1="1068.5" x2="354.3" y2="1068.5" stroke="#333333" stroke-width="4.83"/>
<line x1="124.3" y1="1259.2" x2="131.5" y2="1259.2" stroke="#333333" stroke-width="2.1"/>
<text x="119.6" y="1269.7" font-size="28.6" text-anchor="end">50</text>
<line x1="124.3" y1="1119.6" x2="131.5" y2="1119.6" stroke="#333333" stroke-width="2.1"/>
<text x="119.6" y="1130.1" font-size="28.6" text-anchor="end">60</text>
<line x1="124.3" y1="980" x2="131.5" y2="980" stroke="#333333" stroke-width="2.1"/>
<text x="119.6" y="990.5" font-size="28.6" text-anchor="end">70</text>
<line x1="124.3" y1="840.4" x2="131.5" y2="840.4" stroke="#333333" stroke-width="2.1"/>
<text x="119.6" y="850.9" font-size="28.6" text-anchor="end">80</text>
<line x1="176.1" y1="1283.4" x2="176.1" y2="1290.6" stroke="#333333" stroke-width="2.1"/>
<text x="176.1" y="1316" font-size="28.6" text-anchor="middle">NC</text>
<line x1="251.1" y1="1283.4" x2="251.1" y2="1290.6" stroke="#333333" stroke-width="2.1"/>
<text x="251.1" y="1316" font-size="28.6" text-anchor="middle">ON</text>
<line x1="326.1" y1="1283.4" x2="326.1" y2="1290.6" stroke="#333333" stroke-width="2.1"/>
<text x="326.1" y="1316" font-size="28.6" text-anchor="middle">OP</text>
<line x1="131.5" y1="750" x2="131.5" y2="1284.7" stroke="#000" stroke-width="2.6"/>
<line x1="130.2" y1="1283.4" x2="371" y2="1283.4" stroke="#000" stroke-width="2.6"/>
<path d="M176.1 786.2 V774.2 H326.1 V786.2" stroke="#000" stroke-width="1.7" fill="none"/>
<text x="243.5" y="768.7" font-size="24.2" text-anchor="middle">2.22e−16</text>
<path d="M251.1 831.4 V819.4 H326.1 V831.4" stroke="#000" stroke-width="1.7" fill="none"/>
<text x="285.2" y="813.9" font-size="24.2" text-anchor="middle">2.22e−16</text>
<path d="M176.1 876.5 V864.5 H251.1 V876.5" stroke="#000" stroke-width="1.7" fill="none"/>
<text x="213.4" y="859" font-size="24.2" text-anchor="middle">7.5e−09</text>
<text x="57.7" y="1016.5" font-size="30.6" text-anchor="middle" transform="rotate(-90 57.7 1016.5)">Age(years)</text>
<line x1="569" y1="928.1" x2="569" y2="1032.4" stroke="#333333" stroke-width="2.3"/>
<line x1="569" y1="1110.7" x2="569" y2="1209.6" stroke="#333333" stroke-width="2.3"/>
<rect x="540.8" y="1032.4" width="56.4" height="78.3" fill="#0090CF" stroke="#333333" stroke-width="2.3"/>
<line x1="540.8" y1="1075.5" x2="597.2" y2="1075.5" stroke="#333333" stroke-width="4.83"/>
<circle cx="569" cy="883.8" r="5" fill="#333333"/>
<circle cx="569" cy="1227.8" r="5" fill="#333333"/>
<circle cx="569" cy="1235.6" r="5" fill="#333333"/>
<line x1="644.1" y1="926.6" x2="644.1" y2="1040.6" stroke="#333333" stroke-width="2.3"/>
<line x1="644.1" y1="1122.8" x2="644.1" y2="1228.4" stroke="#333333" stroke-width="2.3"/>
<rect x="615.9" y="1040.6" width="56.4" height="82.2" fill="#ECCB64" stroke="#333333" stroke-width="2.3"/>
<line x1="615.9" y1="1081.6" x2="672.3" y2="1081.6" stroke="#333333" stroke-width="4.83"/>
<line x1="719.1" y1="912.9" x2="719.1" y2="1038.5" stroke="#333333" stroke-width="2.3"/>
<line x1="719.1" y1="1124.3" x2="719.1" y2="1239.6" stroke="#333333" stroke-width="2.3"/>
<rect x="690.9" y="1038.5" width="56.4" height="85.8" fill="#D02255" stroke="#333333" stroke-width="2.3"/>
<line x1="690.9" y1="1077.9" x2="747.3" y2="1077.9" stroke="#333333" stroke-width="4.83"/>
<circle cx="719.1" cy="892.3" r="5" fill="#333333"/>
<circle cx="719.1" cy="1259.3" r="5" fill="#333333"/>
<line x1="517.2" y1="1265.1" x2="524.4" y2="1265.1" stroke="#333333" stroke-width="2.1"/>
<text x="512.5" y="1275.6" font-size="28.6" text-anchor="end">15</text>
<line x1="517.2" y1="1175" x2="524.4" y2="1175" stroke="#333333" stroke-width="2.1"/>
<text x="512.5" y="1185.5" font-size="28.6" text-anchor="end">20</text>
<line x1="517.2" y1="1084.7" x2="524.4" y2="1084.7" stroke="#333333" stroke-width="2.1"/>
<text x="512.5" y="1095.2" font-size="28.6" text-anchor="end">25</text>
<line x1="517.2" y1="994.5" x2="524.4" y2="994.5" stroke="#333333" stroke-width="2.1"/>
<text x="512.5" y="1005" font-size="28.6" text-anchor="end">30</text>
<line x1="517.2" y1="904.2" x2="524.4" y2="904.2" stroke="#333333" stroke-width="2.1"/>
<text x="512.5" y="914.7" font-size="28.6" text-anchor="end">35</text>
<line x1="517.2" y1="814.6" x2="524.4" y2="814.6" stroke="#333333" stroke-width="2.1"/>
<text x="512.5" y="825.1" font-size="28.6" text-anchor="end">40</text>
<line x1="569" y1="1283.4" x2="569" y2="1290.6" stroke="#333333" stroke-width="2.1"/>
<text x="569" y="1316" font-size="28.6" text-anchor="middle">NC</text>
<line x1="644.1" y1="1283.4" x2="644.1" y2="1290.6" stroke="#333333" stroke-width="2.1"/>
<text x="644.1" y="1316" font-size="28.6" text-anchor="middle">ON</text>
<line x1="719.1" y1="1283.4" x2="719.1" y2="1290.6" stroke="#333333" stroke-width="2.1"/>
<text x="719.1" y="1316" font-size="28.6" text-anchor="middle">OP</text>
<line x1="524.4" y1="750" x2="524.4" y2="1284.7" stroke="#000" stroke-width="2.6"/>
<line x1="523.1" y1="1283.4" x2="763.5" y2="1283.4" stroke="#000" stroke-width="2.6"/>
<path d="M569 786.2 V774.2 H719.1 V786.2" stroke="#000" stroke-width="1.7" fill="none"/>
<text x="644.05" y="768.7" font-size="24.2" text-anchor="middle">0.67</text>
<path d="M644.1 831.4 V819.4 H719.1 V831.4" stroke="#000" stroke-width="1.7" fill="none"/>
<text x="681.6" y="813.9" font-size="24.2" text-anchor="middle">0.75</text>
<path d="M569 876.5 V864.5 H644.1 V876.5" stroke="#000" stroke-width="1.7" fill="none"/>
<text x="606.55" y="859" font-size="24.2" text-anchor="middle">0.23</text>
<text x="451.6" y="1017" font-size="30.6" text-anchor="middle" transform="rotate(-90 451.6 1017)">BMI <tspan font-size="40.2">(</tspan>kg m<tspan font-size="23.5" dy="-15.3">−2</tspan><tspan dy="15.3" font-size="40.2">)</tspan></text>
<line x1="939" y1="926.3" x2="939" y2="1037" stroke="#333333" stroke-width="2.3"/>
<line x1="939" y1="1122.8" x2="939" y2="1233.5" stroke="#333333" stroke-width="2.3"/>
<rect x="910.8" y="1037" width="56.4" height="85.8" fill="#0090CF" stroke="#333333" stroke-width="2.3"/>
<line x1="910.8" y1="1071.3" x2="967.2" y2="1071.3" stroke="#333333" stroke-width="4.83"/>
<circle cx="939" cy="883.8" r="5" fill="#333333"/>
<circle cx="939" cy="892.3" r="5" fill="#333333"/>
<line x1="1014.1" y1="943.2" x2="1014.1" y2="1045.5" stroke="#333333" stroke-width="2.3"/>
<line x1="1014.1" y1="1122.8" x2="1014.1" y2="1199.3" stroke="#333333" stroke-width="2.3"/>
<rect x="985.9" y="1045.5" width="56.4" height="77.3" fill="#ECCB64" stroke="#333333" stroke-width="2.3"/>
<line x1="985.9" y1="1079.7" x2="1042.3" y2="1079.7" stroke="#333333" stroke-width="4.83"/>
<circle cx="1014.1" cy="900.8" r="5" fill="#333333"/>
<circle cx="1014.1" cy="1250.8" r="5" fill="#333333"/>
<circle cx="1014.1" cy="1259.3" r="5" fill="#333333"/>
<line x1="1089.1" y1="943.2" x2="1089.1" y2="1037" stroke="#333333" stroke-width="2.3"/>
<line x1="1089.1" y1="1113.7" x2="1089.1" y2="1225" stroke="#333333" stroke-width="2.3"/>
<rect x="1060.9" y="1037" width="56.4" height="76.7" fill="#D02255" stroke="#333333" stroke-width="2.3"/>
<line x1="1060.9" y1="1075.5" x2="1117.3" y2="1075.5" stroke="#333333" stroke-width="4.83"/>
<circle cx="1089.1" cy="1259.3" r="5" fill="#333333"/>
<line x1="887.2" y1="1147.7" x2="894.4" y2="1147.7" stroke="#333333" stroke-width="2.1"/>
<text x="882.5" y="1158.2" font-size="28.6" text-anchor="end">0.8</text>
<line x1="887.2" y1="977.2" x2="894.4" y2="977.2" stroke="#333333" stroke-width="2.1"/>
<text x="882.5" y="987.7" font-size="28.6" text-anchor="end">1.0</text>
<line x1="887.2" y1="806.8" x2="894.4" y2="806.8" stroke="#333333" stroke-width="2.1"/>
<text x="882.5" y="817.3" font-size="28.6" text-anchor="end">1.2</text>
<line x1="939" y1="1283.4" x2="939" y2="1290.6" stroke="#333333" stroke-width="2.1"/>
<text x="939" y="1316" font-size="28.6" text-anchor="middle">NC</text>
<line x1="1014.1" y1="1283.4" x2="1014.1" y2="1290.6" stroke="#333333" stroke-width="2.1"/>
<text x="1014.1" y="1316" font-size="28.6" text-anchor="middle">ON</text>
<line x1="1089.1" y1="1283.4" x2="1089.1" y2="1290.6" stroke="#333333" stroke-width="2.1"/>
<text x="1089.1" y="1316" font-size="28.6" text-anchor="middle">OP</text>
<line x1="894.4" y1="750" x2="894.4" y2="1284.7" stroke="#000" stroke-width="2.6"/>
<line x1="893.1" y1="1283.4" x2="1133.5" y2="1283.4" stroke="#000" stroke-width="2.6"/>
<path d="M939 786.2 V774.2 H1089.1 V786.2" stroke="#000" stroke-width="1.7" fill="none"/>
<text x="1014.05" y="768.7" font-size="24.2" text-anchor="middle">0.40</text>
<path d="M1014.1 831.4 V819.4 H1089.1 V831.4" stroke="#000" stroke-width="1.7" fill="none"/>
<text x="1051.6" y="813.9" font-size="24.2" text-anchor="middle">0.11</text>
<path d="M939 876.5 V864.5 H1014.1 V876.5" stroke="#000" stroke-width="1.7" fill="none"/>
<text x="976.55" y="859" font-size="24.2" text-anchor="middle">0.44</text>
<text x="821.6" y="1016.5" font-size="30.6" text-anchor="middle" transform="rotate(-90 821.6 1016.5)">WHR</text>
<text x="1150" y="722" font-size="54" font-weight="bold">e</text>
<rect x="1296.7" y="788" width="80" height="194.34" fill="#F8766D"/>
<rect x="1296.7" y="982.04" width="80" height="301.26" fill="#00BFC4"/>
<rect x="1385.3" y="788" width="80" height="231.96" fill="#F8766D"/>
<rect x="1385.3" y="1019.66" width="80" height="263.64" fill="#00BFC4"/>
<rect x="1473.8" y="788" width="80" height="315.62" fill="#F8766D"/>
<rect x="1473.8" y="1103.32" width="80" height="179.98" fill="#00BFC4"/>
<text x="1336.7" y="894.02" font-size="24.2" text-anchor="middle">39.2%</text>
<text x="1336.7" y="1141.52" font-size="24.2" text-anchor="middle">60.8%</text>
<text x="1425.3" y="912.83" font-size="24.2" text-anchor="middle">46.8%</text>
<text x="1425.3" y="1160.33" font-size="24.2" text-anchor="middle">53.2%</text>
<text x="1513.8" y="954.66" font-size="24.2" text-anchor="middle">63.7%</text>
<text x="1513.8" y="1202.16" font-size="24.2" text-anchor="middle">36.3%</text>
<line x1="1277.5" y1="788" x2="1284.7" y2="788" stroke="#333333" stroke-width="2.1"/>
<text x="1270.8" y="798.5" font-size="27.6" text-anchor="end">100%</text>
<line x1="1277.5" y1="911.75" x2="1284.7" y2="911.75" stroke="#333333" stroke-width="2.1"/>
<text x="1270.8" y="922.25" font-size="27.6" text-anchor="end">75%</text>
<line x1="1277.5" y1="1035.5" x2="1284.7" y2="1035.5" stroke="#333333" stroke-width="2.1"/>
<text x="1270.8" y="1046" font-size="27.6" text-anchor="end">50%</text>
<line x1="1277.5" y1="1159.25" x2="1284.7" y2="1159.25" stroke="#333333" stroke-width="2.1"/>
<text x="1270.8" y="1169.75" font-size="27.6" text-anchor="end">25%</text>
<line x1="1277.5" y1="1283" x2="1284.7" y2="1283" stroke="#333333" stroke-width="2.1"/>
<text x="1270.8" y="1293.5" font-size="27.6" text-anchor="end">0%</text>
<line x1="1336.7" y1="1283" x2="1336.7" y2="1290.2" stroke="#333333" stroke-width="2.1"/>
<text x="1336.7" y="1316" font-size="28.6" text-anchor="middle">NC</text>
<line x1="1425.3" y1="1283" x2="1425.3" y2="1290.2" stroke="#333333" stroke-width="2.1"/>
<text x="1425.3" y="1316" font-size="28.6" text-anchor="middle">ON</text>
<line x1="1513.8" y1="1283" x2="1513.8" y2="1290.2" stroke="#333333" stroke-width="2.1"/>
<text x="1513.8" y="1316" font-size="28.6" text-anchor="middle">OP</text>
<line x1="1284.7" y1="787" x2="1284.7" y2="1284.3" stroke="#000" stroke-width="2.6"/>
<line x1="1283.4" y1="1283" x2="1567.5" y2="1283" stroke="#000" stroke-width="2.6"/>
<text x="1185" y="1035.5" font-size="30.6" text-anchor="middle" transform="rotate(-90 1185 1035.5)">Proportion</text>
<path d="M1332 740.8 V728.8 H1513.6 V740.8" stroke="#000" stroke-width="1.7" fill="none"/>
<text x="1414.3" y="721.2" font-size="24.2" text-anchor="middle">1.3e−5</text>
<path d="M1425.2 767.1 V755.1 H1513.6 V767.1" stroke="#000" stroke-width="1.7" fill="none"/>
<text x="1470" y="750.3" font-size="24.2" text-anchor="middle">0.0008</text>
<path d="M1332.2 782 V770 H1425.2 V782" stroke="#000" stroke-width="1.7" fill="none"/>
<text x="1374" y="765.9" font-size="24.2" text-anchor="middle">0.11</text>
<rect x="1305.2" y="1326.8" width="29" height="28.8" fill="#F8766D"/>
<rect x="1446.4" y="1326.8" width="29" height="28.8" fill="#00BFC4"/>
<text x="1348.8" y="1350" font-size="23.8">Women</text>
<text x="1490" y="1350" font-size="23.8">Men</text>
<text x="1584" y="754.6" font-size="52" font-weight="bold">f</text>
<line x1="1743.45" y1="837.1" x2="1743.45" y2="908.6" stroke="#333333" stroke-width="2.5"/>
<line x1="1743.45" y1="969.7" x2="1743.45" y2="986.4" stroke="#333333" stroke-width="2.5"/>
<rect x="1727.6" y="908.6" width="31.7" height="61.1" fill="#F8766D" stroke="#333333" stroke-width="2.5"/>
<line x1="1727.6" y1="948.1" x2="1759.3" y2="948.1" stroke="#333333" stroke-width="5.25"/>
<circle cx="1743.45" cy="809.1" r="5" fill="#333333"/>
<line x1="1777.55" y1="838.8" x2="1777.55" y2="906.5" stroke="#333333" stroke-width="2.5"/>
<line x1="1777.55" y1="968.8" x2="1777.55" y2="986" stroke="#333333" stroke-width="2.5"/>
<rect x="1761.7" y="906.5" width="31.7" height="62.3" fill="#00BFC4" stroke="#333333" stroke-width="2.5"/>
<line x1="1761.7" y1="942.2" x2="1793.4" y2="942.2" stroke="#333333" stroke-width="5.25"/>
<circle cx="1777.55" cy="776.4" r="5" fill="#333333"/>
<circle cx="1777.55" cy="803" r="5" fill="#333333"/>
<circle cx="1777.55" cy="809.4" r="5" fill="#333333"/>
<line x1="1834.95" y1="986.6" x2="1834.95" y2="1017.6" stroke="#333333" stroke-width="2.5"/>
<line x1="1834.95" y1="1068.9" x2="1834.95" y2="1091.7" stroke="#333333" stroke-width="2.5"/>
<rect x="1819.3" y="1017.6" width="31.3" height="51.3" fill="#F8766D" stroke="#333333" stroke-width="2.5"/>
<line x1="1819.3" y1="1035.7" x2="1850.6" y2="1035.7" stroke="#333333" stroke-width="5.25"/>
<line x1="1869.05" y1="987.8" x2="1869.05" y2="1007.7" stroke="#333333" stroke-width="2.5"/>
<line x1="1869.05" y1="1061.6" x2="1869.05" y2="1091.7" stroke="#333333" stroke-width="2.5"/>
<rect x="1853.4" y="1007.7" width="31.3" height="53.9" fill="#00BFC4" stroke="#333333" stroke-width="2.5"/>
<line x1="1853.4" y1="1031.3" x2="1884.7" y2="1031.3" stroke="#333333" stroke-width="5.25"/>
<line x1="1926.15" y1="1096.4" x2="1926.15" y2="1109.8" stroke="#333333" stroke-width="2.5"/>
<line x1="1926.15" y1="1158.3" x2="1926.15" y2="1228.6" stroke="#333333" stroke-width="2.5"/>
<rect x="1910.3" y="1109.8" width="31.7" height="48.5" fill="#F8766D" stroke="#333333" stroke-width="2.5"/>
<line x1="1910.3" y1="1131.2" x2="1942" y2="1131.2" stroke="#333333" stroke-width="5.25"/>
<circle cx="1926.15" cy="1252.8" r="5" fill="#333333"/>
<line x1="1960.25" y1="1093.4" x2="1960.25" y2="1104.6" stroke="#333333" stroke-width="2.5"/>
<line x1="1960.25" y1="1142.3" x2="1960.25" y2="1181.1" stroke="#333333" stroke-width="2.5"/>
<rect x="1944.4" y="1104.6" width="31.7" height="37.7" fill="#00BFC4" stroke="#333333" stroke-width="2.5"/>
<line x1="1944.4" y1="1120.4" x2="1976.1" y2="1120.4" stroke="#333333" stroke-width="5.25"/>
<circle cx="1960.25" cy="1199.9" r="5" fill="#333333"/>
<circle cx="1960.25" cy="1219.9" r="5" fill="#333333"/>
<circle cx="1960.25" cy="1223.9" r="5" fill="#333333"/>
<circle cx="1960.25" cy="1261" r="5" fill="#333333"/>
<line x1="1698.7" y1="773.4" x2="1705.9" y2="773.4" stroke="#333333" stroke-width="2.1"/>
<text x="1693.3" y="783.9" font-size="28.6" text-anchor="end">200</text>
<line x1="1698.7" y1="906.5" x2="1705.9" y2="906.5" stroke="#333333" stroke-width="2.1"/>
<text x="1693.3" y="917" font-size="28.6" text-anchor="end">150</text>
<line x1="1698.7" y1="1039.8" x2="1705.9" y2="1039.8" stroke="#333333" stroke-width="2.1"/>
<text x="1693.3" y="1050.3" font-size="28.6" text-anchor="end">100</text>
<line x1="1698.7" y1="1172.8" x2="1705.9" y2="1172.8" stroke="#333333" stroke-width="2.1"/>
<text x="1693.3" y="1183.3" font-size="28.6" text-anchor="end">50</text>
<line x1="1760.5" y1="1285.2" x2="1760.5" y2="1292.4" stroke="#333333" stroke-width="2.1"/>
<text x="1760.5" y="1318.5" font-size="28.6" text-anchor="middle">NC</text>
<line x1="1851.7" y1="1285.2" x2="1851.7" y2="1292.4" stroke="#333333" stroke-width="2.1"/>
<text x="1851.7" y="1318.5" font-size="28.6" text-anchor="middle">ON</text>
<line x1="1942.7" y1="1285.2" x2="1942.7" y2="1292.4" stroke="#333333" stroke-width="2.1"/>
<text x="1942.7" y="1318.5" font-size="28.6" text-anchor="middle">OP</text>
<line x1="1705.9" y1="752" x2="1705.9" y2="1286.5" stroke="#000" stroke-width="2.6"/>
<line x1="1704.6" y1="1285.2" x2="1998" y2="1285.2" stroke="#000" stroke-width="2.6"/>
<text x="1760" y="762.3" font-size="28" text-anchor="middle">0.34</text>
<text x="1854.6" y="961" font-size="28" text-anchor="middle">0.03</text>
<text x="1944.4" y="1070.5" font-size="28" text-anchor="middle">0.04</text>
<text x="1625.3" y="1017.7" font-size="30.6" text-anchor="middle" transform="rotate(-90 1625.3 1017.7)">Mean BMD <tspan font-size="40.2">(</tspan>mg cm<tspan font-size="23.5" dy="-15.3">−3</tspan><tspan dy="15.3" font-size="40.2">)</tspan></text>
<line x1="1736.4" y1="1180.6" x2="1736.4" y2="1212.8" stroke="#333333" stroke-width="2.5"/>
<rect x="1721.7" y="1186.9" width="29.4" height="19.6" fill="#F8766D" stroke="#333333" stroke-width="2.5"/>
<line x1="1721.7" y1="1196.8" x2="1751.1" y2="1196.8" stroke="#333333" stroke-width="2.5"/>
<text x="1771" y="1206.5" font-size="28">Women</text>
<line x1="1736.4" y1="1218.7" x2="1736.4" y2="1250.4" stroke="#333333" stroke-width="2.5"/>
<rect x="1721.7" y="1225" width="29.4" height="19.6" fill="#00BFC4" stroke="#333333" stroke-width="2.5"/>
<line x1="1721.7" y1="1234.7" x2="1751.1" y2="1234.7" stroke="#333333" stroke-width="2.5"/>
<text x="1772" y="1244.6" font-size="28">Men</text>
<text x="-2" y="1395.2" font-size="52" font-weight="bold">d</text>
<rect x="137.1" y="1469.3" width="87.2" height="301.26" fill="#CCCCCC"/>
<rect x="137.1" y="1770.26" width="87.2" height="194.34" fill="#F46D43"/>
<rect x="233.7" y="1469.3" width="87.2" height="302.25" fill="#CCCCCC"/>
<rect x="233.7" y="1771.25" width="87.2" height="193.35" fill="#F46D43"/>
<rect x="330.6" y="1469.3" width="87.2" height="349.28" fill="#CCCCCC"/>
<rect x="330.6" y="1818.28" width="87.2" height="146.32" fill="#F46D43"/>
<text x="182.9" y="1627.08" font-size="26.3" text-anchor="middle">60.8%</text>
<text x="182.9" y="1874.58" font-size="26.3" text-anchor="middle">39.2%</text>
<text x="279.5" y="1627.58" font-size="26.3" text-anchor="middle">61.0%</text>
<text x="279.5" y="1875.08" font-size="26.3" text-anchor="middle">39.0%</text>
<text x="376.4" y="1651.09" font-size="26.3" text-anchor="middle">70.5%</text>
<text x="376.4" y="1898.59" font-size="26.3" text-anchor="middle">29.5%</text>
<line x1="116.2" y1="1469.3" x2="123.4" y2="1469.3" stroke="#333333" stroke-width="2.1"/>
<text x="109.4" y="1479.8" font-size="27.6" text-anchor="end">100%</text>
<line x1="116.2" y1="1593.05" x2="123.4" y2="1593.05" stroke="#333333" stroke-width="2.1"/>
<text x="109.4" y="1603.55" font-size="27.6" text-anchor="end">75%</text>
<line x1="116.2" y1="1716.8" x2="123.4" y2="1716.8" stroke="#333333" stroke-width="2.1"/>
<text x="109.4" y="1727.3" font-size="27.6" text-anchor="end">50%</text>
<line x1="116.2" y1="1840.55" x2="123.4" y2="1840.55" stroke="#333333" stroke-width="2.1"/>
<text x="109.4" y="1851.05" font-size="27.6" text-anchor="end">25%</text>
<line x1="116.2" y1="1964.3" x2="123.4" y2="1964.3" stroke="#333333" stroke-width="2.1"/>
<text x="109.4" y="1974.8" font-size="27.6" text-anchor="end">0%</text>
<line x1="180.7" y1="1964.3" x2="180.7" y2="1971.5" stroke="#333333" stroke-width="2.1"/>
<text x="180.7" y="1997.3" font-size="28.6" text-anchor="middle">NC</text>
<line x1="277.3" y1="1964.3" x2="277.3" y2="1971.5" stroke="#333333" stroke-width="2.1"/>
<text x="277.3" y="1997.3" font-size="28.6" text-anchor="middle">ON</text>
<line x1="374.2" y1="1964.3" x2="374.2" y2="1971.5" stroke="#333333" stroke-width="2.1"/>
<text x="374.2" y="1997.3" font-size="28.6" text-anchor="middle">OP</text>
<line x1="123.4" y1="1468.3" x2="123.4" y2="1965.6" stroke="#000" stroke-width="2.6"/>
<line x1="122.1" y1="1964.3" x2="431.5" y2="1964.3" stroke="#000" stroke-width="2.6"/>
<text x="25.1" y="1716.8" font-size="30.6" text-anchor="middle" transform="rotate(-90 25.1 1716.8)">Proportion</text>
<text x="265.4" y="1404.3" font-size="30.9" text-anchor="middle">Smoking status</text>
<text x="270" y="1445.7" font-size="24.2" text-anchor="middle">0.10</text>
<line x1="186.6" y1="1453.7" x2="368.6" y2="1453.7" stroke="#000" stroke-width="1.6"/>
<text x="132" y="2053.8" font-size="30.6">Currently smoking</text>
<rect x="133.4" y="2073.7" width="46.6" height="46.3" fill="#CCCCCC"/>
<rect x="133.4" y="2123.4" width="46.6" height="46.6" fill="#F46D43"/>
<text x="197.2" y="2107.2" font-size="28.5">No</text>
<text x="197.2" y="2157.2" font-size="28.5">Yes</text>
<rect x="646.4" y="1469.3" width="87.2" height="247.8" fill="#CCCCCC"/>
<rect x="646.4" y="1716.8" width="87.2" height="128.01" fill="#FEE08B"/>
<rect x="646.4" y="1844.51" width="87.2" height="120.09" fill="#F46D43"/>
<rect x="742.9" y="1469.3" width="87.2" height="257.7" fill="#CCCCCC"/>
<rect x="742.9" y="1726.7" width="87.2" height="115.64" fill="#FEE08B"/>
<rect x="742.9" y="1842.03" width="87.2" height="122.57" fill="#F46D43"/>
<rect x="839.7" y="1469.3" width="87.2" height="295.32" fill="#CCCCCC"/>
<rect x="839.7" y="1764.32" width="87.2" height="101.78" fill="#FEE08B"/>
<rect x="839.7" y="1865.8" width="87.2" height="98.8" fill="#F46D43"/>
<text x="692.5" y="1600.35" font-size="26.3" text-anchor="middle">50.0%</text>
<text x="692.5" y="1787.95" font-size="26.3" text-anchor="middle">25.8%</text>
<text x="692.5" y="1911.7" font-size="26.3" text-anchor="middle">24.2%</text>
<text x="789" y="1605.3" font-size="26.3" text-anchor="middle">52.0%</text>
<text x="789" y="1791.67" font-size="26.3" text-anchor="middle">23.3%</text>
<text x="789" y="1910.47" font-size="26.3" text-anchor="middle">24.7%</text>
<text x="885.8" y="1624.11" font-size="26.3" text-anchor="middle">59.6%</text>
<text x="885.8" y="1822.36" font-size="26.3" text-anchor="middle">20.5%</text>
<text x="885.8" y="1922.35" font-size="26.3" text-anchor="middle">19.9%</text>
<line x1="625.7" y1="1469.3" x2="632.9" y2="1469.3" stroke="#333333" stroke-width="2.1"/>
<text x="617.9" y="1479.8" font-size="27.6" text-anchor="end">100%</text>
<line x1="625.7" y1="1593.05" x2="632.9" y2="1593.05" stroke="#333333" stroke-width="2.1"/>
<text x="617.9" y="1603.55" font-size="27.6" text-anchor="end">75%</text>
<line x1="625.7" y1="1716.8" x2="632.9" y2="1716.8" stroke="#333333" stroke-width="2.1"/>
<text x="617.9" y="1727.3" font-size="27.6" text-anchor="end">50%</text>
<line x1="625.7" y1="1840.55" x2="632.9" y2="1840.55" stroke="#333333" stroke-width="2.1"/>
<text x="617.9" y="1851.05" font-size="27.6" text-anchor="end">25%</text>
<line x1="625.7" y1="1964.3" x2="632.9" y2="1964.3" stroke="#333333" stroke-width="2.1"/>
<text x="617.9" y="1974.8" font-size="27.6" text-anchor="end">0%</text>
<line x1="690" y1="1964.3" x2="690" y2="1971.5" stroke="#333333" stroke-width="2.1"/>
<text x="690" y="1997.3" font-size="28.6" text-anchor="middle">NC</text>
<line x1="786.5" y1="1964.3" x2="786.5" y2="1971.5" stroke="#333333" stroke-width="2.1"/>
<text x="786.5" y="1997.3" font-size="28.6" text-anchor="middle">ON</text>
<line x1="883.3" y1="1964.3" x2="883.3" y2="1971.5" stroke="#333333" stroke-width="2.1"/>
<text x="883.3" y="1997.3" font-size="28.6" text-anchor="middle">OP</text>
<line x1="632.9" y1="1468.3" x2="632.9" y2="1965.6" stroke="#000" stroke-width="2.6"/>
<line x1="631.6" y1="1964.3" x2="941" y2="1964.3" stroke="#000" stroke-width="2.6"/>
<text x="533.4" y="1716.8" font-size="30.6" text-anchor="middle" transform="rotate(-90 533.4 1716.8)">Proportion</text>
<text x="771.4" y="1404.3" font-size="30.9" text-anchor="middle">Alcohol intake</text>
<text x="769.4" y="1445.7" font-size="24.2" text-anchor="middle">0.51</text>
<line x1="687.1" y1="1453.7" x2="869.1" y2="1453.7" stroke="#000" stroke-width="1.6"/>
<text x="562.5" y="2054.9" font-size="30.6">Alcohol intake per week</text>
<rect x="563.9" y="2074.8" width="47.2" height="46.8" fill="#CCCCCC"/>
<rect x="563.9" y="2124.8" width="47.2" height="54.2" fill="#FEE08B"/>
<rect x="563.9" y="2182.5" width="47.2" height="46.8" fill="#F46D43"/>
<text x="627.4" y="2108.8" font-size="28.5">0 g</text>
<text x="627.4" y="2146.2" font-size="28.5">&gt;0 g &amp;&lt;=210 g in men</text>
<text x="627.4" y="2177.4" font-size="28.5">&gt;0 g &amp;&lt;=140 g in women</text>
<text x="627.4" y="2215.2" font-size="28.5">&gt;210 g in men; &gt;140 g in women</text>
<rect x="1168.5" y="1469.3" width="87.2" height="176.52" fill="#CCCCCC"/>
<rect x="1168.5" y="1645.52" width="87.2" height="71.58" fill="#FEE08B"/>
<rect x="1168.5" y="1716.8" width="87.2" height="135.44" fill="#FDAE61"/>
<rect x="1168.5" y="1851.93" width="87.2" height="35.94" fill="#F46D43"/>
<rect x="1168.5" y="1887.57" width="87.2" height="77.03" fill="#EE5A5A"/>
<rect x="1265.1" y="1469.3" width="87.2" height="210.39" fill="#CCCCCC"/>
<rect x="1265.1" y="1679.39" width="87.2" height="76.61" fill="#FEE08B"/>
<rect x="1265.1" y="1755.7" width="87.2" height="103.86" fill="#FDAE61"/>
<rect x="1265.1" y="1859.25" width="87.2" height="29.04" fill="#F46D43"/>
<rect x="1265.1" y="1887.99" width="87.2" height="76.61" fill="#EE5A5A"/>
<rect x="1361.6" y="1469.3" width="87.2" height="162.99" fill="#CCCCCC"/>
<rect x="1361.6" y="1631.99" width="87.2" height="74.97" fill="#FEE08B"/>
<rect x="1361.6" y="1706.66" width="87.2" height="105.14" fill="#FDAE61"/>
<rect x="1361.6" y="1811.5" width="87.2" height="30.96" fill="#F46D43"/>
<rect x="1361.6" y="1842.16" width="87.2" height="122.44" fill="#EE5A5A"/>
<text x="1221.1" y="1564.71" font-size="26.3" text-anchor="middle">35.6%</text>
<text x="1221.1" y="1688.46" font-size="26.3" text-anchor="middle">14.4%</text>
<text x="1221.1" y="1791.67" font-size="26.3" text-anchor="middle">27.3%</text>
<text x="1218.4" y="1877.05" font-size="26.3" text-anchor="middle">7.2%</text>
<text x="1221.1" y="1933.24" font-size="26.3" text-anchor="middle">15.5%</text>
<text x="1317.7" y="1581.65" font-size="26.3" text-anchor="middle">42.4%</text>
<text x="1317.7" y="1724.84" font-size="26.3" text-anchor="middle">15.4%</text>
<text x="1317.7" y="1814.78" font-size="26.3" text-anchor="middle">20.9%</text>
<text x="1315" y="1880.92" font-size="26.3" text-anchor="middle">5.8%</text>
<text x="1317.7" y="1933.45" font-size="26.3" text-anchor="middle">15.4%</text>
<text x="1414.2" y="1557.95" font-size="26.3" text-anchor="middle">32.9%</text>
<text x="1414.2" y="1676.63" font-size="26.3" text-anchor="middle">15.1%</text>
<text x="1414.2" y="1766.38" font-size="26.3" text-anchor="middle">21.2%</text>
<text x="1411.5" y="1834.13" font-size="26.3" text-anchor="middle">6.2%</text>
<text x="1414.2" y="1910.53" font-size="26.3" text-anchor="middle">24.7%</text>
<line x1="1147.7" y1="1469.3" x2="1154.9" y2="1469.3" stroke="#333333" stroke-width="2.1"/>
<text x="1140.8" y="1479.8" font-size="27.6" text-anchor="end">100%</text>
<line x1="1147.7" y1="1593.05" x2="1154.9" y2="1593.05" stroke="#333333" stroke-width="2.1"/>
<text x="1140.8" y="1603.55" font-size="27.6" text-anchor="end">75%</text>
<line x1="1147.7" y1="1716.8" x2="1154.9" y2="1716.8" stroke="#333333" stroke-width="2.1"/>
<text x="1140.8" y="1727.3" font-size="27.6" text-anchor="end">50%</text>
<line x1="1147.7" y1="1840.55" x2="1154.9" y2="1840.55" stroke="#333333" stroke-width="2.1"/>
<text x="1140.8" y="1851.05" font-size="27.6" text-anchor="end">25%</text>
<line x1="1147.7" y1="1964.3" x2="1154.9" y2="1964.3" stroke="#333333" stroke-width="2.1"/>
<text x="1140.8" y="1974.8" font-size="27.6" text-anchor="end">0%</text>
<line x1="1212.1" y1="1964.3" x2="1212.1" y2="1971.5" stroke="#333333" stroke-width="2.1"/>
<text x="1212.1" y="1997.3" font-size="28.6" text-anchor="middle">NC</text>
<line x1="1308.7" y1="1964.3" x2="1308.7" y2="1971.5" stroke="#333333" stroke-width="2.1"/>
<text x="1308.7" y="1997.3" font-size="28.6" text-anchor="middle">ON</text>
<line x1="1405.2" y1="1964.3" x2="1405.2" y2="1971.5" stroke="#333333" stroke-width="2.1"/>
<text x="1405.2" y="1997.3" font-size="28.6" text-anchor="middle">OP</text>
<line x1="1154.9" y1="1468.3" x2="1154.9" y2="1965.6" stroke="#000" stroke-width="2.6"/>
<line x1="1153.6" y1="1964.3" x2="1463" y2="1964.3" stroke="#000" stroke-width="2.6"/>
<text x="1055.1" y="1716.8" font-size="30.6" text-anchor="middle" transform="rotate(-90 1055.1 1716.8)">Proportion</text>
<text x="1302.4" y="1404.3" font-size="30.9" text-anchor="middle">Dairy products consumption</text>
<text x="1292.3" y="1445.7" font-size="24.2" text-anchor="middle">0.17</text>
<line x1="1209.1" y1="1453.7" x2="1390.9" y2="1453.7" stroke="#000" stroke-width="1.6"/>
<rect x="1690.8" y="1469.3" width="87.2" height="23.07" fill="#CCCCCC"/>
<rect x="1690.8" y="1492.07" width="87.2" height="214.64" fill="#FEE08B"/>
<rect x="1690.8" y="1706.4" width="87.2" height="81.97" fill="#FDAE61"/>
<rect x="1690.8" y="1788.08" width="87.2" height="176.52" fill="#F46D43"/>
<rect x="1787.6" y="1469.3" width="87.2" height="44.89" fill="#CCCCCC"/>
<rect x="1787.6" y="1513.89" width="87.2" height="154.4" fill="#FEE08B"/>
<rect x="1787.6" y="1667.99" width="87.2" height="86.52" fill="#FDAE61"/>
<rect x="1787.6" y="1754.21" width="87.2" height="210.39" fill="#F46D43"/>
<rect x="1884.2" y="1469.3" width="87.2" height="44.36" fill="#CCCCCC"/>
<rect x="1884.2" y="1513.36" width="87.2" height="207.21" fill="#FEE08B"/>
<rect x="1884.2" y="1720.26" width="87.2" height="95.34" fill="#FDAE61"/>
<rect x="1884.2" y="1815.3" width="87.2" height="149.3" fill="#F46D43"/>
<text x="1740.2" y="1487.98" font-size="26.3" text-anchor="middle">4.6%</text>
<text x="1742.9" y="1606.54" font-size="26.3" text-anchor="middle">43.3%</text>
<text x="1742.9" y="1754.54" font-size="26.3" text-anchor="middle">16.5%</text>
<text x="1742.9" y="1883.49" font-size="26.3" text-anchor="middle">35.6%</text>
<text x="1837" y="1498.9" font-size="26.3" text-anchor="middle">9.0%</text>
<text x="1839.7" y="1598.24" font-size="26.3" text-anchor="middle">31.1%</text>
<text x="1839.7" y="1718.4" font-size="26.3" text-anchor="middle">17.4%</text>
<text x="1839.7" y="1866.55" font-size="26.3" text-anchor="middle">42.4%</text>
<text x="1933.6" y="1498.63" font-size="26.3" text-anchor="middle">8.9%</text>
<text x="1936.3" y="1624.11" font-size="26.3" text-anchor="middle">41.8%</text>
<text x="1936.3" y="1775.08" font-size="26.3" text-anchor="middle">19.2%</text>
<text x="1936.3" y="1897.1" font-size="26.3" text-anchor="middle">30.1%</text>
<line x1="1669.4" y1="1469.3" x2="1676.6" y2="1469.3" stroke="#333333" stroke-width="2.1"/>
<text x="1663.2" y="1479.8" font-size="27.6" text-anchor="end">100%</text>
<line x1="1669.4" y1="1593.05" x2="1676.6" y2="1593.05" stroke="#333333" stroke-width="2.1"/>
<text x="1663.2" y="1603.55" font-size="27.6" text-anchor="end">75%</text>
<line x1="1669.4" y1="1716.8" x2="1676.6" y2="1716.8" stroke="#333333" stroke-width="2.1"/>
<text x="1663.2" y="1727.3" font-size="27.6" text-anchor="end">50%</text>
<line x1="1669.4" y1="1840.55" x2="1676.6" y2="1840.55" stroke="#333333" stroke-width="2.1"/>
<text x="1663.2" y="1851.05" font-size="27.6" text-anchor="end">25%</text>
<line x1="1669.4" y1="1964.3" x2="1676.6" y2="1964.3" stroke="#333333" stroke-width="2.1"/>
<text x="1663.2" y="1974.8" font-size="27.6" text-anchor="end">0%</text>
<line x1="1734.4" y1="1964.3" x2="1734.4" y2="1971.5" stroke="#333333" stroke-width="2.1"/>
<text x="1734.4" y="1997.3" font-size="28.6" text-anchor="middle">NC</text>
<line x1="1831.2" y1="1964.3" x2="1831.2" y2="1971.5" stroke="#333333" stroke-width="2.1"/>
<text x="1831.2" y="1997.3" font-size="28.6" text-anchor="middle">ON</text>
<line x1="1927.8" y1="1964.3" x2="1927.8" y2="1971.5" stroke="#333333" stroke-width="2.1"/>
<text x="1927.8" y="1997.3" font-size="28.6" text-anchor="middle">OP</text>
<line x1="1676.6" y1="1468.3" x2="1676.6" y2="1965.6" stroke="#000" stroke-width="2.6"/>
<line x1="1675.3" y1="1964.3" x2="1985.7" y2="1964.3" stroke="#000" stroke-width="2.6"/>
<text x="1577.6" y="1716.8" font-size="30.6" text-anchor="middle" transform="rotate(-90 1577.6 1716.8)">Proportion</text>
<text x="1828" y="1404.3" font-size="30.9" text-anchor="middle">Red meat consumption</text>
<text x="1821.9" y="1445.5" font-size="24.2" text-anchor="middle">0.054</text>
<line x1="1731.9" y1="1453.4" x2="1913.9" y2="1453.4" stroke="#000" stroke-width="1.6"/>
<text x="1193.3" y="2054.6" font-size="30.6">Frequency</text>
<rect x="1194.3" y="2074.9" width="34.8" height="35" fill="#CCCCCC"/>
<text x="1246.1" y="2102.1" font-size="28.4">Monthly</text>
<rect x="1194.3" y="2112.9" width="34.8" height="35" fill="#FEE08B"/>
<text x="1246.1" y="2140.1" font-size="28.4">1−3 days/week</text>
<rect x="1194.3" y="2150.9" width="34.8" height="35" fill="#FDAE61"/>
<text x="1246.1" y="2178.1" font-size="28.4">4−6 days/week</text>
<rect x="1194.3" y="2188.9" width="34.8" height="35" fill="#F46D43"/>
<text x="1246.1" y="2216.1" font-size="28.4">Daily</text>
<text x="1708.2" y="2054.6" font-size="30.6">Frequency</text>
<rect x="1709.2" y="2074.9" width="34.8" height="35" fill="#CCCCCC"/>
<text x="1760.9" y="2102.1" font-size="28.4">Monthly</text>
<rect x="1709.2" y="2112.9" width="34.8" height="35" fill="#FEE08B"/>
<text x="1760.9" y="2140.1" font-size="28.4">1−3 days/week</text>
<rect x="1709.2" y="2150.9" width="34.8" height="35" fill="#FDAE61"/>
<text x="1760.9" y="2178.1" font-size="28.4">4−6 days/week</text>
<rect x="1709.2" y="2188.9" width="34.8" height="35" fill="#F46D43"/>
<text x="1760.9" y="2216.1" font-size="28.4">Daily</text>
</svg>
</body></html>
